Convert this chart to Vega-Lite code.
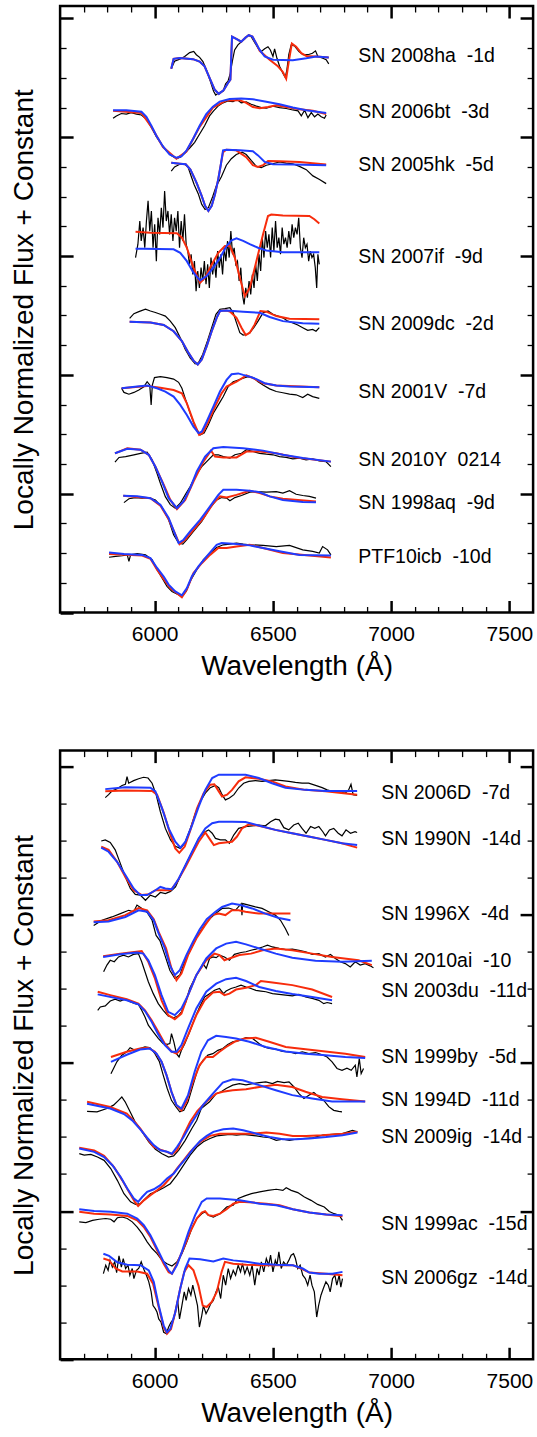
{
"$schema":"https://vega.github.io/schema/vega-lite/v6.json",
"background":"white",
"padding":{"left":8.1,"top":3,"right":0,"bottom":0},
"spacing":65.6,
"config":{
"view":{"stroke":"black","strokeWidth":2.5},
"font":"Liberation Sans",
"axis":{"domain":false,"grid":false,"labelFont":"Liberation Sans","titleFont":"Liberation Sans","labelFontSize":21,"titleFontSize":28,"titleFontWeight":"normal","labelColor":"black","titleColor":"black","tickColor":"black"}
},
"datasets":{
"k1":[
{"sn":1,"w":6070,"f":18.31},{"sn":1,"w":6084,"f":18.56},{"sn":1,"w":6106,"f":18.63},{"sn":1,"w":6127,"f":18.72},{"sn":1,"w":6148,"f":18.85},{"sn":1,"w":6165,"f":18.89},{"sn":1,"w":6176,"f":18.78},{"sn":1,"w":6190,"f":18.69},{"sn":1,"w":6204,"f":18.55},{"sn":1,"w":6218,"f":18.28},{"sn":1,"w":6235,"f":17.89},{"sn":1,"w":6249,"f":17.55},{"sn":1,"w":6258,"f":17.42},{"sn":1,"w":6271,"f":17.5},{"sn":1,"w":6289,"f":17.55},{"sn":1,"w":6300,"f":17.8},{"sn":1,"w":6310,"f":17.89},{"sn":1,"w":6320,"f":18.16},{"sn":1,"w":6328,"f":18.55},{"sn":1,"w":6338,"f":18.94},{"sn":1,"w":6352,"f":19.11},{"sn":1,"w":6370,"f":19.24},{"sn":1,"w":6384,"f":19.33},{"sn":1,"w":6396,"f":19.44},{"sn":1,"w":6408,"f":19.39},{"sn":1,"w":6422,"f":19.2},{"sn":1,"w":6437,"f":19.0},{"sn":1,"w":6451,"f":18.89},{"sn":1,"w":6465,"f":18.98},{"sn":1,"w":6479,"f":19.05},{"sn":1,"w":6489,"f":18.94},{"sn":1,"w":6500,"f":18.72},{"sn":1,"w":6507,"f":18.98},{"sn":1,"w":6517,"f":18.66},{"sn":1,"w":6528,"f":18.39},{"sn":1,"w":6542,"f":18.16},{"sn":1,"w":6552,"f":18.02},{"sn":1,"w":6559,"f":18.27},{"sn":1,"w":6567,"f":18.78},{"sn":1,"w":6577,"f":19.11},{"sn":1,"w":6591,"f":19.08},{"sn":1,"w":6610,"f":18.89},{"sn":1,"w":6627,"f":18.78},{"sn":1,"w":6648,"f":18.78},{"sn":1,"w":6667,"f":18.83},{"sn":1,"w":6680,"f":18.91},{"sn":1,"w":6690,"f":18.72},{"sn":1,"w":6711,"f":18.66},{"sn":1,"w":6725,"f":18.61},{"sn":1,"w":6736,"f":18.47},
{"sn":2,"w":5824,"f":16.64},{"sn":2,"w":5838,"f":16.72},{"sn":2,"w":5859,"f":16.8},{"sn":2,"w":5880,"f":16.78},{"sn":2,"w":5901,"f":16.83},{"sn":2,"w":5923,"f":16.78},{"sn":2,"w":5944,"f":16.75},{"sn":2,"w":5965,"f":16.61},{"sn":2,"w":5986,"f":16.33},{"sn":2,"w":6007,"f":16.02},{"sn":2,"w":6028,"f":15.78},{"sn":2,"w":6049,"f":15.55},{"sn":2,"w":6070,"f":15.39},{"sn":2,"w":6092,"f":15.28},{"sn":2,"w":6108,"f":15.33},{"sn":2,"w":6127,"f":15.46},{"sn":2,"w":6148,"f":15.64},{"sn":2,"w":6169,"f":15.83},{"sn":2,"w":6190,"f":16.11},{"sn":2,"w":6211,"f":16.39},{"sn":2,"w":6232,"f":16.72},{"sn":2,"w":6249,"f":16.89},{"sn":2,"w":6268,"f":17.05},{"sn":2,"w":6289,"f":17.16},{"sn":2,"w":6310,"f":17.22},{"sn":2,"w":6331,"f":17.2},{"sn":2,"w":6348,"f":17.27},{"sn":2,"w":6366,"f":17.16},{"sn":2,"w":6387,"f":17.19},{"sn":2,"w":6408,"f":17.11},{"sn":2,"w":6430,"f":17.05},{"sn":2,"w":6451,"f":17.0},{"sn":2,"w":6472,"f":16.98},{"sn":2,"w":6500,"f":17.05},{"sn":2,"w":6528,"f":17.0},{"sn":2,"w":6556,"f":16.97},{"sn":2,"w":6584,"f":16.92},{"sn":2,"w":6606,"f":16.89},{"sn":2,"w":6620,"f":16.72},{"sn":2,"w":6634,"f":16.91},{"sn":2,"w":6648,"f":16.66},{"sn":2,"w":6662,"f":16.83},{"sn":2,"w":6676,"f":16.69},{"sn":2,"w":6690,"f":16.78},{"sn":2,"w":6704,"f":16.69},{"sn":2,"w":6718,"f":16.64},{"sn":2,"w":6725,"f":16.75},
{"sn":3,"w":6070,"f":14.86},{"sn":3,"w":6084,"f":15.0},{"sn":3,"w":6106,"f":15.09},{"sn":3,"w":6127,"f":15.09},{"sn":3,"w":6141,"f":15.0},{"sn":3,"w":6155,"f":14.67},{"sn":3,"w":6167,"f":14.4},{"sn":3,"w":6185,"f":14.08},{"sn":3,"w":6199,"f":13.74},{"sn":3,"w":6213,"f":13.57},{"sn":3,"w":6227,"f":13.63},{"sn":3,"w":6245,"f":14.0},{"sn":3,"w":6260,"f":14.35},{"sn":3,"w":6282,"f":14.67},{"sn":3,"w":6303,"f":15.06},{"sn":3,"w":6324,"f":15.28},{"sn":3,"w":6345,"f":15.42},{"sn":3,"w":6370,"f":15.5},{"sn":3,"w":6387,"f":15.42},{"sn":3,"w":6408,"f":15.22},{"sn":3,"w":6430,"f":15.02},{"sn":3,"w":6451,"f":14.98},{"sn":3,"w":6472,"f":15.06},{"sn":3,"w":6500,"f":15.11},{"sn":3,"w":6528,"f":15.17},{"sn":3,"w":6556,"f":15.13},{"sn":3,"w":6584,"f":15.11},{"sn":3,"w":6612,"f":15.02},{"sn":3,"w":6641,"f":14.91},{"sn":3,"w":6669,"f":14.7},{"sn":3,"w":6697,"f":14.58},{"sn":3,"w":6725,"f":14.44},
{"sn":4,"w":5919,"f":11.95},{"sn":4,"w":5929,"f":12.4},{"sn":4,"w":5937,"f":13.18},{"sn":4,"w":5943,"f":12.51},{"sn":4,"w":5951,"f":12.96},{"sn":4,"w":5958,"f":12.28},{"sn":4,"w":5965,"f":13.18},{"sn":4,"w":5972,"f":13.86},{"sn":4,"w":5979,"f":12.84},{"sn":4,"w":5986,"f":13.52},{"sn":4,"w":5993,"f":12.28},{"sn":4,"w":6000,"f":13.07},{"sn":4,"w":6007,"f":11.83},{"sn":4,"w":6014,"f":13.29},{"sn":4,"w":6021,"f":12.73},{"sn":4,"w":6028,"f":13.63},{"sn":4,"w":6035,"f":12.96},{"sn":4,"w":6042,"f":14.19},{"sn":4,"w":6049,"f":13.18},{"sn":4,"w":6056,"f":13.52},{"sn":4,"w":6063,"f":12.73},{"sn":4,"w":6070,"f":13.41},{"sn":4,"w":6077,"f":12.51},{"sn":4,"w":6084,"f":13.29},{"sn":4,"w":6091,"f":12.84},{"sn":4,"w":6098,"f":13.52},{"sn":4,"w":6105,"f":12.28},{"sn":4,"w":6112,"f":13.18},{"sn":4,"w":6119,"f":12.51},{"sn":4,"w":6126,"f":13.41},{"sn":4,"w":6133,"f":12.4},{"sn":4,"w":6140,"f":12.17},{"sn":4,"w":6147,"f":11.72},{"sn":4,"w":6154,"f":12.06},{"sn":4,"w":6161,"f":11.38},{"sn":4,"w":6168,"f":11.83},{"sn":4,"w":6175,"f":10.82},{"sn":4,"w":6182,"f":11.5},{"sn":4,"w":6189,"f":10.93},{"sn":4,"w":6196,"f":11.61},{"sn":4,"w":6203,"f":11.16},{"sn":4,"w":6210,"f":11.83},{"sn":4,"w":6217,"f":11.05},{"sn":4,"w":6224,"f":11.72},{"sn":4,"w":6231,"f":10.93},{"sn":4,"w":6238,"f":11.95},{"sn":4,"w":6245,"f":11.38},{"sn":4,"w":6252,"f":11.83},{"sn":4,"w":6259,"f":11.27},{"sn":4,"w":6266,"f":12.17},{"sn":4,"w":6273,"f":11.61},{"sn":4,"w":6280,"f":12.06},{"sn":4,"w":6287,"f":11.38},{"sn":4,"w":6294,"f":12.28},{"sn":4,"w":6301,"f":11.83},{"sn":4,"w":6308,"f":12.51},{"sn":4,"w":6315,"f":11.95},{"sn":4,"w":6322,"f":12.84},{"sn":4,"w":6329,"f":12.06},{"sn":4,"w":6336,"f":12.28},{"sn":4,"w":6343,"f":11.72},{"sn":4,"w":6350,"f":11.83},{"sn":4,"w":6357,"f":11.16},{"sn":4,"w":6364,"f":11.61},{"sn":4,"w":6371,"f":10.71},{"sn":4,"w":6378,"f":10.37},{"sn":4,"w":6385,"f":10.93},{"sn":4,"w":6392,"f":10.6},{"sn":4,"w":6399,"f":11.16},{"sn":4,"w":6406,"f":10.71},{"sn":4,"w":6413,"f":11.38},{"sn":4,"w":6420,"f":10.93},{"sn":4,"w":6427,"f":11.72},{"sn":4,"w":6434,"f":11.16},{"sn":4,"w":6441,"f":12.06},{"sn":4,"w":6448,"f":11.5},{"sn":4,"w":6455,"f":12.62},{"sn":4,"w":6462,"f":11.95},{"sn":4,"w":6469,"f":12.84},{"sn":4,"w":6476,"f":12.28},{"sn":4,"w":6483,"f":12.73},{"sn":4,"w":6490,"f":11.95},{"sn":4,"w":6497,"f":12.96},{"sn":4,"w":6504,"f":12.17},{"sn":4,"w":6511,"f":13.18},{"sn":4,"w":6518,"f":12.28},{"sn":4,"w":6525,"f":12.62},{"sn":4,"w":6532,"f":12.06},{"sn":4,"w":6539,"f":12.96},{"sn":4,"w":6546,"f":12.4},{"sn":4,"w":6553,"f":12.62},{"sn":4,"w":6560,"f":12.28},{"sn":4,"w":6567,"f":12.84},{"sn":4,"w":6574,"f":12.4},{"sn":4,"w":6581,"f":13.07},{"sn":4,"w":6588,"f":12.62},{"sn":4,"w":6595,"f":12.96},{"sn":4,"w":6602,"f":12.73},{"sn":4,"w":6609,"f":13.29},{"sn":4,"w":6616,"f":12.28},{"sn":4,"w":6623,"f":11.95},{"sn":4,"w":6630,"f":12.62},{"sn":4,"w":6637,"f":12.28},{"sn":4,"w":6644,"f":12.4},{"sn":4,"w":6651,"f":11.83},{"sn":4,"w":6658,"f":12.17},{"sn":4,"w":6665,"f":11.95},{"sn":4,"w":6672,"f":12.06},{"sn":4,"w":6679,"f":11.61},{"sn":4,"w":6685,"f":10.93},{"sn":4,"w":6690,"f":12.06},{"sn":4,"w":6696,"f":11.72},
{"sn":5,"w":5894,"f":9.9},{"sn":5,"w":5912,"f":10.06},{"sn":5,"w":5933,"f":10.13},{"sn":5,"w":5961,"f":10.21},{"sn":5,"w":5982,"f":10.15},{"sn":5,"w":6003,"f":10.1},{"sn":5,"w":6024,"f":10.04},{"sn":5,"w":6045,"f":9.98},{"sn":5,"w":6066,"f":9.81},{"sn":5,"w":6087,"f":9.59},{"sn":5,"w":6108,"f":9.25},{"sn":5,"w":6129,"f":8.86},{"sn":5,"w":6150,"f":8.57},{"sn":5,"w":6171,"f":8.37},{"sn":5,"w":6185,"f":8.41},{"sn":5,"w":6203,"f":8.69},{"sn":5,"w":6223,"f":9.14},{"sn":5,"w":6241,"f":9.59},{"sn":5,"w":6259,"f":10.04},{"sn":5,"w":6276,"f":10.21},{"sn":5,"w":6297,"f":10.23},{"sn":5,"w":6318,"f":10.26},{"sn":5,"w":6332,"f":10.09},{"sn":5,"w":6346,"f":9.75},{"sn":5,"w":6360,"f":9.42},{"sn":5,"w":6374,"f":9.34},{"sn":5,"w":6388,"f":9.36},{"sn":5,"w":6402,"f":9.42},{"sn":5,"w":6419,"f":9.59},{"sn":5,"w":6437,"f":9.81},{"sn":5,"w":6458,"f":10.09},{"sn":5,"w":6479,"f":10.15},{"sn":5,"w":6500,"f":10.04},{"sn":5,"w":6521,"f":9.98},{"sn":5,"w":6542,"f":9.92},{"sn":5,"w":6563,"f":9.81},{"sn":5,"w":6584,"f":9.75},{"sn":5,"w":6605,"f":9.68},{"sn":5,"w":6626,"f":9.59},{"sn":5,"w":6647,"f":9.5},{"sn":5,"w":6668,"f":9.53},{"sn":5,"w":6682,"f":9.47},{"sn":5,"w":6696,"f":9.59},
{"sn":6,"w":5860,"f":7.55},{"sn":6,"w":5870,"f":7.41},{"sn":6,"w":5891,"f":7.35},{"sn":6,"w":5912,"f":7.41},{"sn":6,"w":5933,"f":7.49},{"sn":6,"w":5954,"f":7.6},{"sn":6,"w":5968,"f":7.77},{"sn":6,"w":5979,"f":7.66},{"sn":6,"w":5985,"f":6.99},{"sn":6,"w":5990,"f":7.66},{"sn":6,"w":5999,"f":7.91},{"sn":6,"w":6024,"f":7.94},{"sn":6,"w":6052,"f":7.91},{"sn":6,"w":6080,"f":7.86},{"sn":6,"w":6101,"f":7.75},{"sn":6,"w":6115,"f":7.55},{"sn":6,"w":6129,"f":7.21},{"sn":6,"w":6150,"f":6.71},{"sn":6,"w":6171,"f":6.26},{"sn":6,"w":6192,"f":5.98},{"sn":6,"w":6209,"f":6.04},{"sn":6,"w":6227,"f":6.32},{"sn":6,"w":6248,"f":6.71},{"sn":6,"w":6269,"f":6.99},{"sn":6,"w":6290,"f":7.27},{"sn":6,"w":6311,"f":7.61},{"sn":6,"w":6332,"f":7.77},{"sn":6,"w":6353,"f":7.83},{"sn":6,"w":6374,"f":7.89},{"sn":6,"w":6395,"f":7.94},{"sn":6,"w":6416,"f":7.91},{"sn":6,"w":6437,"f":7.77},{"sn":6,"w":6458,"f":7.66},{"sn":6,"w":6486,"f":7.53},{"sn":6,"w":6514,"f":7.44},{"sn":6,"w":6542,"f":7.4},{"sn":6,"w":6570,"f":7.35},{"sn":6,"w":6598,"f":7.33},{"sn":6,"w":6626,"f":7.24},{"sn":6,"w":6647,"f":7.35},{"sn":6,"w":6668,"f":7.27},{"sn":6,"w":6696,"f":7.21},
{"sn":7,"w":5832,"f":5.06},{"sn":7,"w":5849,"f":5.22},{"sn":7,"w":5877,"f":5.25},{"sn":7,"w":5912,"f":5.31},{"sn":7,"w":5940,"f":5.36},{"sn":7,"w":5968,"f":5.4},{"sn":7,"w":5989,"f":5.14},{"sn":7,"w":6007,"f":4.75},{"sn":7,"w":6024,"f":4.35},{"sn":7,"w":6045,"f":3.9},{"sn":7,"w":6066,"f":3.63},{"sn":7,"w":6087,"f":3.51},{"sn":7,"w":6108,"f":3.68},{"sn":7,"w":6129,"f":3.96},{"sn":7,"w":6150,"f":4.24},{"sn":7,"w":6171,"f":4.58},{"sn":7,"w":6199,"f":4.91},{"sn":7,"w":6227,"f":5.14},{"sn":7,"w":6248,"f":5.31},{"sn":7,"w":6269,"f":5.31},{"sn":7,"w":6290,"f":5.25},{"sn":7,"w":6318,"f":5.2},{"sn":7,"w":6339,"f":5.31},{"sn":7,"w":6367,"f":5.36},{"sn":7,"w":6388,"f":5.48},{"sn":7,"w":6416,"f":5.42},{"sn":7,"w":6444,"f":5.36},{"sn":7,"w":6472,"f":5.33},{"sn":7,"w":6500,"f":5.31},{"sn":7,"w":6528,"f":5.25},{"sn":7,"w":6556,"f":5.22},{"sn":7,"w":6584,"f":5.17},{"sn":7,"w":6612,"f":5.2},{"sn":7,"w":6640,"f":5.14},{"sn":7,"w":6668,"f":5.17},{"sn":7,"w":6696,"f":5.1},{"sn":7,"w":6724,"f":5.08},{"sn":7,"w":6745,"f":4.91},
{"sn":8,"w":5870,"f":3.7},{"sn":8,"w":5891,"f":3.83},{"sn":8,"w":5919,"f":3.87},{"sn":8,"w":5947,"f":3.85},{"sn":8,"w":5975,"f":3.87},{"sn":8,"w":6003,"f":3.79},{"sn":8,"w":6031,"f":3.54},{"sn":8,"w":6059,"f":3.12},{"sn":8,"w":6080,"f":2.62},{"sn":8,"w":6101,"f":2.34},{"sn":8,"w":6119,"f":2.3},{"sn":8,"w":6136,"f":2.45},{"sn":8,"w":6164,"f":2.73},{"sn":8,"w":6199,"f":3.07},{"sn":8,"w":6234,"f":3.52},{"sn":8,"w":6262,"f":3.79},{"sn":8,"w":6283,"f":3.87},{"sn":8,"w":6304,"f":3.85},{"sn":8,"w":6318,"f":3.76},{"sn":8,"w":6339,"f":3.87},{"sn":8,"w":6367,"f":3.94},{"sn":8,"w":6402,"f":4.05},{"sn":8,"w":6430,"f":4.07},{"sn":8,"w":6472,"f":4.05},{"sn":8,"w":6514,"f":4.07},{"sn":8,"w":6542,"f":4.02},{"sn":8,"w":6570,"f":4.1},{"sn":8,"w":6598,"f":3.98},{"sn":8,"w":6626,"f":3.94},{"sn":8,"w":6654,"f":3.91},{"sn":8,"w":6682,"f":3.85},
{"sn":9,"w":5807,"f":1.86},{"sn":9,"w":5835,"f":1.89},{"sn":9,"w":5863,"f":1.91},{"sn":9,"w":5884,"f":1.94},{"sn":9,"w":5891,"f":1.72},{"sn":9,"w":5898,"f":1.94},{"sn":9,"w":5926,"f":1.98},{"sn":9,"w":5961,"f":1.94},{"sn":9,"w":5989,"f":1.78},{"sn":9,"w":6010,"f":1.44},{"sn":9,"w":6031,"f":1.16},{"sn":9,"w":6052,"f":0.88},{"sn":9,"w":6073,"f":0.71},{"sn":9,"w":6094,"f":0.62},{"sn":9,"w":6115,"f":0.54},{"sn":9,"w":6133,"f":0.71},{"sn":9,"w":6150,"f":1.05},{"sn":9,"w":6178,"f":1.44},{"sn":9,"w":6206,"f":1.78},{"sn":9,"w":6234,"f":2.0},{"sn":9,"w":6262,"f":2.19},{"sn":9,"w":6290,"f":2.28},{"sn":9,"w":6318,"f":2.3},{"sn":9,"w":6346,"f":2.34},{"sn":9,"w":6374,"f":2.3},{"sn":9,"w":6402,"f":2.28},{"sn":9,"w":6458,"f":2.26},{"sn":9,"w":6514,"f":2.22},{"sn":9,"w":6570,"f":2.26},{"sn":9,"w":6626,"f":2.11},{"sn":9,"w":6668,"f":2.06},{"sn":9,"w":6696,"f":2.0},{"sn":9,"w":6710,"f":2.22},{"sn":9,"w":6731,"f":2.11},{"sn":9,"w":6745,"f":1.94}
],
"r1":[
{"sn":1,"w":6070,"f":18.31},{"sn":1,"w":6080,"f":18.64},{"sn":1,"w":6106,"f":18.67},{"sn":1,"w":6162,"f":18.63},{"sn":1,"w":6190,"f":18.55},{"sn":1,"w":6211,"f":18.39},{"sn":1,"w":6232,"f":18.0},{"sn":1,"w":6253,"f":17.61},{"sn":1,"w":6271,"f":17.46},{"sn":1,"w":6291,"f":17.58},{"sn":1,"w":6310,"f":17.83},{"sn":1,"w":6320,"f":17.94},{"sn":1,"w":6327,"f":19.39},{"sn":1,"w":6345,"f":19.31},{"sn":1,"w":6366,"f":19.22},{"sn":1,"w":6384,"f":19.36},{"sn":1,"w":6398,"f":19.44},{"sn":1,"w":6413,"f":19.39},{"sn":1,"w":6429,"f":19.16},{"sn":1,"w":6444,"f":18.91},{"sn":1,"w":6486,"f":18.61},{"sn":1,"w":6521,"f":18.39},{"sn":1,"w":6542,"f":18.2},{"sn":1,"w":6556,"f":17.97},{"sn":1,"w":6567,"f":18.55},{"sn":1,"w":6580,"f":19.16},{"sn":1,"w":6598,"f":19.05},{"sn":1,"w":6620,"f":18.83},{"sn":1,"w":6641,"f":18.74},{"sn":1,"w":6683,"f":18.72},{"sn":1,"w":6736,"f":18.69},
{"sn":2,"w":5824,"f":16.89},{"sn":2,"w":5944,"f":16.82},{"sn":2,"w":5986,"f":16.35},{"sn":2,"w":6035,"f":15.67},{"sn":2,"w":6092,"f":15.28},{"sn":2,"w":6134,"f":15.52},{"sn":2,"w":6190,"f":16.35},{"sn":2,"w":6246,"f":17.0},{"sn":2,"w":6303,"f":17.24},{"sn":2,"w":6359,"f":17.25},{"sn":2,"w":6387,"f":17.16},{"sn":2,"w":6415,"f":17.02},{"sn":2,"w":6444,"f":16.98},{"sn":2,"w":6479,"f":17.02},{"sn":2,"w":6514,"f":17.08},{"sn":2,"w":6556,"f":17.02},{"sn":2,"w":6612,"f":16.94},{"sn":2,"w":6669,"f":16.89},{"sn":2,"w":6725,"f":16.78},
{"sn":3,"w":6070,"f":15.14},{"sn":3,"w":6106,"f":15.11},{"sn":3,"w":6131,"f":15.09},{"sn":3,"w":6151,"f":14.91},{"sn":3,"w":6169,"f":14.61},{"sn":3,"w":6178,"f":14.45},{"sn":3,"w":6199,"f":14.02},{"sn":3,"w":6213,"f":13.69},{"sn":3,"w":6227,"f":13.52},{"sn":3,"w":6241,"f":13.69},{"sn":3,"w":6255,"f":14.08},{"sn":3,"w":6269,"f":14.6},{"sn":3,"w":6280,"f":15.1},{"sn":3,"w":6289,"f":15.5},{"sn":3,"w":6303,"f":15.58},{"sn":3,"w":6345,"f":15.56},{"sn":3,"w":6387,"f":15.33},{"sn":3,"w":6415,"f":15.06},{"sn":3,"w":6437,"f":15.0},{"sn":3,"w":6458,"f":15.06},{"sn":3,"w":6479,"f":15.2},{"sn":3,"w":6528,"f":15.19},{"sn":3,"w":6612,"f":15.17},{"sn":3,"w":6725,"f":15.08},
{"sn":4,"w":5919,"f":12.82},{"sn":4,"w":5982,"f":12.79},{"sn":4,"w":6094,"f":12.77},{"sn":4,"w":6115,"f":12.62},{"sn":4,"w":6136,"f":12.28},{"sn":4,"w":6164,"f":11.61},{"sn":4,"w":6192,"f":11.1},{"sn":4,"w":6213,"f":11.27},{"sn":4,"w":6241,"f":11.72},{"sn":4,"w":6269,"f":12.11},{"sn":4,"w":6297,"f":12.34},{"sn":4,"w":6318,"f":12.34},{"sn":4,"w":6339,"f":11.94},{"sn":4,"w":6360,"f":11.27},{"sn":4,"w":6381,"f":10.65},{"sn":4,"w":6402,"f":10.93},{"sn":4,"w":6430,"f":11.83},{"sn":4,"w":6458,"f":12.73},{"sn":4,"w":6479,"f":13.35},{"sn":4,"w":6493,"f":13.4},{"sn":4,"w":6542,"f":13.37},{"sn":4,"w":6654,"f":13.35},{"sn":4,"w":6675,"f":13.24},{"sn":4,"w":6696,"f":13.1},
{"sn":5,"w":5894,"f":9.79},{"sn":5,"w":5982,"f":9.76},{"sn":5,"w":6038,"f":9.68},{"sn":5,"w":6080,"f":9.47},{"sn":5,"w":6115,"f":9.14},{"sn":5,"w":6143,"f":8.74},{"sn":5,"w":6164,"f":8.48},{"sn":5,"w":6182,"f":8.35},{"sn":5,"w":6199,"f":8.52},{"sn":5,"w":6220,"f":8.97},{"sn":5,"w":6241,"f":9.47},{"sn":5,"w":6262,"f":9.92},{"sn":5,"w":6276,"f":10.15},{"sn":5,"w":6304,"f":10.17},{"sn":5,"w":6318,"f":10.13},{"sn":5,"w":6346,"f":9.92},{"sn":5,"w":6367,"f":9.59},{"sn":5,"w":6385,"f":9.34},{"sn":5,"w":6402,"f":9.42},{"sn":5,"w":6423,"f":9.7},{"sn":5,"w":6447,"f":10.15},{"sn":5,"w":6472,"f":10.13},{"sn":5,"w":6514,"f":9.98},{"sn":5,"w":6570,"f":9.89},{"sn":5,"w":6696,"f":9.87},
{"sn":6,"w":5860,"f":7.55},{"sn":6,"w":5968,"f":7.63},{"sn":6,"w":6024,"f":7.57},{"sn":6,"w":6080,"f":7.49},{"sn":6,"w":6115,"f":7.38},{"sn":6,"w":6136,"f":7.04},{"sn":6,"w":6164,"f":6.43},{"sn":6,"w":6188,"f":5.98},{"sn":6,"w":6203,"f":6.04},{"sn":6,"w":6227,"f":6.43},{"sn":6,"w":6255,"f":6.93},{"sn":6,"w":6283,"f":7.38},{"sn":6,"w":6304,"f":7.61},{"sn":6,"w":6346,"f":7.77},{"sn":6,"w":6388,"f":7.98},{"sn":6,"w":6416,"f":7.89},{"sn":6,"w":6458,"f":7.72},{"sn":6,"w":6514,"f":7.64},{"sn":6,"w":6696,"f":7.58},
{"sn":7,"w":5832,"f":5.36},{"sn":7,"w":5884,"f":5.53},{"sn":7,"w":5940,"f":5.48},{"sn":7,"w":5975,"f":5.31},{"sn":7,"w":6003,"f":4.91},{"sn":7,"w":6038,"f":4.3},{"sn":7,"w":6066,"f":3.79},{"sn":7,"w":6094,"f":3.48},{"sn":7,"w":6129,"f":3.79},{"sn":7,"w":6164,"f":4.41},{"sn":7,"w":6206,"f":5.08},{"sn":7,"w":6238,"f":5.45},{"sn":7,"w":6255,"f":5.25},{"sn":7,"w":6290,"f":5.22},{"sn":7,"w":6346,"f":5.22},{"sn":7,"w":6388,"f":5.42},{"sn":7,"w":6444,"f":5.42},{"sn":7,"w":6514,"f":5.36},{"sn":7,"w":6598,"f":5.22},{"sn":7,"w":6745,"f":5.08},
{"sn":8,"w":5867,"f":3.93},{"sn":8,"w":5982,"f":3.85},{"sn":8,"w":6024,"f":3.6},{"sn":8,"w":6059,"f":3.14},{"sn":8,"w":6091,"f":2.56},{"sn":8,"w":6105,"f":2.3},{"sn":8,"w":6129,"f":2.45},{"sn":8,"w":6164,"f":2.78},{"sn":8,"w":6206,"f":3.18},{"sn":8,"w":6248,"f":3.68},{"sn":8,"w":6276,"f":3.91},{"sn":8,"w":6304,"f":3.87},{"sn":8,"w":6346,"f":3.96},{"sn":8,"w":6402,"f":4.1},{"sn":8,"w":6444,"f":4.02},{"sn":8,"w":6486,"f":3.91},{"sn":8,"w":6542,"f":3.83},{"sn":8,"w":6682,"f":3.74},
{"sn":9,"w":5807,"f":1.97},{"sn":9,"w":5947,"f":1.92},{"sn":9,"w":5982,"f":1.81},{"sn":9,"w":6010,"f":1.44},{"sn":9,"w":6045,"f":1.05},{"sn":9,"w":6066,"f":0.82},{"sn":9,"w":6087,"f":0.69},{"sn":9,"w":6115,"f":0.51},{"sn":9,"w":6136,"f":0.77},{"sn":9,"w":6164,"f":1.33},{"sn":9,"w":6199,"f":1.66},{"sn":9,"w":6234,"f":1.94},{"sn":9,"w":6269,"f":2.17},{"sn":9,"w":6304,"f":2.17},{"sn":9,"w":6346,"f":2.22},{"sn":9,"w":6402,"f":2.28},{"sn":9,"w":6458,"f":2.17},{"sn":9,"w":6542,"f":2.0},{"sn":9,"w":6745,"f":1.85}
],
"b1":[
{"sn":1,"w":6070,"f":18.31},{"sn":1,"w":6080,"f":18.64},{"sn":1,"w":6106,"f":18.67},{"sn":1,"w":6162,"f":18.63},{"sn":1,"w":6190,"f":18.55},{"sn":1,"w":6211,"f":18.39},{"sn":1,"w":6232,"f":18.0},{"sn":1,"w":6253,"f":17.61},{"sn":1,"w":6271,"f":17.46},{"sn":1,"w":6291,"f":17.58},{"sn":1,"w":6310,"f":17.83},{"sn":1,"w":6320,"f":17.94},{"sn":1,"w":6327,"f":19.39},{"sn":1,"w":6345,"f":19.31},{"sn":1,"w":6366,"f":19.22},{"sn":1,"w":6384,"f":19.36},{"sn":1,"w":6398,"f":19.44},{"sn":1,"w":6413,"f":19.39},{"sn":1,"w":6429,"f":19.16},{"sn":1,"w":6444,"f":18.94},{"sn":1,"w":6465,"f":18.72},{"sn":1,"w":6500,"f":18.61},{"sn":1,"w":6584,"f":18.59},{"sn":1,"w":6641,"f":18.66},{"sn":1,"w":6683,"f":18.72},{"sn":1,"w":6736,"f":18.69},
{"sn":2,"w":5824,"f":16.91},{"sn":2,"w":5880,"f":16.91},{"sn":2,"w":5944,"f":16.86},{"sn":2,"w":5965,"f":16.69},{"sn":2,"w":5986,"f":16.39},{"sn":2,"w":6007,"f":16.05},{"sn":2,"w":6035,"f":15.69},{"sn":2,"w":6063,"f":15.42},{"sn":2,"w":6092,"f":15.31},{"sn":2,"w":6113,"f":15.36},{"sn":2,"w":6134,"f":15.55},{"sn":2,"w":6162,"f":15.94},{"sn":2,"w":6190,"f":16.39},{"sn":2,"w":6218,"f":16.78},{"sn":2,"w":6246,"f":17.03},{"sn":2,"w":6275,"f":17.2},{"sn":2,"w":6317,"f":17.29},{"sn":2,"w":6366,"f":17.31},{"sn":2,"w":6415,"f":17.28},{"sn":2,"w":6472,"f":17.2},{"sn":2,"w":6528,"f":17.11},{"sn":2,"w":6584,"f":17.0},{"sn":2,"w":6641,"f":16.91},{"sn":2,"w":6725,"f":16.82},
{"sn":3,"w":6070,"f":15.14},{"sn":3,"w":6106,"f":15.11},{"sn":3,"w":6131,"f":15.09},{"sn":3,"w":6151,"f":14.91},{"sn":3,"w":6169,"f":14.61},{"sn":3,"w":6178,"f":14.45},{"sn":3,"w":6199,"f":14.02},{"sn":3,"w":6213,"f":13.69},{"sn":3,"w":6227,"f":13.52},{"sn":3,"w":6241,"f":13.69},{"sn":3,"w":6255,"f":14.08},{"sn":3,"w":6269,"f":14.6},{"sn":3,"w":6280,"f":15.1},{"sn":3,"w":6289,"f":15.56},{"sn":3,"w":6303,"f":15.58},{"sn":3,"w":6359,"f":15.56},{"sn":3,"w":6415,"f":15.53},{"sn":3,"w":6437,"f":15.39},{"sn":3,"w":6465,"f":15.17},{"sn":3,"w":6500,"f":15.09},{"sn":3,"w":6584,"f":15.08},{"sn":3,"w":6725,"f":15.06},
{"sn":4,"w":5919,"f":12.25},{"sn":4,"w":5954,"f":12.25},{"sn":4,"w":6080,"f":12.23},{"sn":4,"w":6108,"f":12.11},{"sn":4,"w":6136,"f":11.83},{"sn":4,"w":6164,"f":11.44},{"sn":4,"w":6192,"f":11.18},{"sn":4,"w":6220,"f":11.33},{"sn":4,"w":6248,"f":11.61},{"sn":4,"w":6276,"f":11.94},{"sn":4,"w":6304,"f":12.34},{"sn":4,"w":6325,"f":12.53},{"sn":4,"w":6346,"f":12.6},{"sn":4,"w":6374,"f":12.51},{"sn":4,"w":6402,"f":12.4},{"sn":4,"w":6437,"f":12.28},{"sn":4,"w":6472,"f":12.19},{"sn":4,"w":6542,"f":12.13},{"sn":4,"w":6626,"f":12.13},{"sn":4,"w":6696,"f":12.13},
{"sn":5,"w":5894,"f":9.79},{"sn":5,"w":5982,"f":9.76},{"sn":5,"w":6038,"f":9.68},{"sn":5,"w":6080,"f":9.47},{"sn":5,"w":6115,"f":9.14},{"sn":5,"w":6143,"f":8.74},{"sn":5,"w":6164,"f":8.48},{"sn":5,"w":6182,"f":8.35},{"sn":5,"w":6199,"f":8.52},{"sn":5,"w":6220,"f":8.97},{"sn":5,"w":6241,"f":9.47},{"sn":5,"w":6262,"f":9.92},{"sn":5,"w":6276,"f":10.15},{"sn":5,"w":6304,"f":10.17},{"sn":5,"w":6374,"f":10.13},{"sn":5,"w":6444,"f":10.09},{"sn":5,"w":6486,"f":9.95},{"sn":5,"w":6542,"f":9.81},{"sn":5,"w":6626,"f":9.74},{"sn":5,"w":6696,"f":9.72},
{"sn":6,"w":5860,"f":7.55},{"sn":6,"w":5926,"f":7.61},{"sn":6,"w":5968,"f":7.64},{"sn":6,"w":6010,"f":7.55},{"sn":6,"w":6045,"f":7.44},{"sn":6,"w":6080,"f":7.27},{"sn":6,"w":6108,"f":6.99},{"sn":6,"w":6136,"f":6.65},{"sn":6,"w":6164,"f":6.26},{"sn":6,"w":6185,"f":6.04},{"sn":6,"w":6199,"f":6.09},{"sn":6,"w":6220,"f":6.43},{"sn":6,"w":6248,"f":6.93},{"sn":6,"w":6276,"f":7.44},{"sn":6,"w":6304,"f":7.83},{"sn":6,"w":6325,"f":8.02},{"sn":6,"w":6353,"f":8.05},{"sn":6,"w":6374,"f":8.0},{"sn":6,"w":6402,"f":7.94},{"sn":6,"w":6430,"f":7.86},{"sn":6,"w":6465,"f":7.72},{"sn":6,"w":6514,"f":7.64},{"sn":6,"w":6570,"f":7.61},{"sn":6,"w":6696,"f":7.58},
{"sn":7,"w":5832,"f":5.36},{"sn":7,"w":5884,"f":5.51},{"sn":7,"w":5940,"f":5.48},{"sn":7,"w":5975,"f":5.31},{"sn":7,"w":6003,"f":4.91},{"sn":7,"w":6031,"f":4.41},{"sn":7,"w":6059,"f":3.85},{"sn":7,"w":6094,"f":3.51},{"sn":7,"w":6122,"f":3.74},{"sn":7,"w":6150,"f":4.19},{"sn":7,"w":6178,"f":4.75},{"sn":7,"w":6213,"f":5.25},{"sn":7,"w":6248,"f":5.53},{"sn":7,"w":6290,"f":5.57},{"sn":7,"w":6374,"f":5.53},{"sn":7,"w":6458,"f":5.45},{"sn":7,"w":6542,"f":5.31},{"sn":7,"w":6626,"f":5.2},{"sn":7,"w":6745,"f":5.08},
{"sn":8,"w":5867,"f":3.93},{"sn":8,"w":5926,"f":3.91},{"sn":8,"w":5982,"f":3.85},{"sn":8,"w":6024,"f":3.63},{"sn":8,"w":6059,"f":3.18},{"sn":8,"w":6087,"f":2.62},{"sn":8,"w":6101,"f":2.34},{"sn":8,"w":6122,"f":2.45},{"sn":8,"w":6150,"f":2.73},{"sn":8,"w":6192,"f":3.12},{"sn":8,"w":6234,"f":3.57},{"sn":8,"w":6269,"f":3.96},{"sn":8,"w":6290,"f":4.13},{"sn":8,"w":6346,"f":4.13},{"sn":8,"w":6402,"f":4.1},{"sn":8,"w":6444,"f":4.05},{"sn":8,"w":6486,"f":3.91},{"sn":8,"w":6542,"f":3.79},{"sn":8,"w":6626,"f":3.72},{"sn":8,"w":6682,"f":3.71},
{"sn":9,"w":5807,"f":2.02},{"sn":9,"w":5870,"f":1.97},{"sn":9,"w":5947,"f":1.94},{"sn":9,"w":5982,"f":1.83},{"sn":9,"w":6010,"f":1.5},{"sn":9,"w":6038,"f":1.21},{"sn":9,"w":6059,"f":0.94},{"sn":9,"w":6087,"f":0.71},{"sn":9,"w":6115,"f":0.58},{"sn":9,"w":6136,"f":0.82},{"sn":9,"w":6157,"f":1.21},{"sn":9,"w":6185,"f":1.55},{"sn":9,"w":6220,"f":1.89},{"sn":9,"w":6262,"f":2.28},{"sn":9,"w":6283,"f":2.34},{"sn":9,"w":6346,"f":2.31},{"sn":9,"w":6402,"f":2.26},{"sn":9,"w":6458,"f":2.17},{"sn":9,"w":6528,"f":2.06},{"sn":9,"w":6612,"f":1.94},{"sn":9,"w":6745,"f":1.92}
],
"t1":[
{"t":"SN 2008ha \u00a0-1d","w":6861,"f":18.75},{"t":"SN 2006bt \u00a0-3d","w":6861,"f":16.86},{"t":"SN 2005hk \u00a0-5d","w":6861,"f":15.08},{"t":"SN 2007if \u00a0-9d","w":6861,"f":11.98},{"t":"SN 2009dc \u00a0-2d","w":6861,"f":9.73},{"t":"SN 2001V \u00a0-7d","w":6861,"f":7.43},{"t":"SN 2010Y \u00a00214","w":6861,"f":5.14},{"t":"SN 1998aq \u00a0-9d","w":6861,"f":3.67},{"t":"PTF10icb \u00a0-10d","w":6861,"f":1.88}
],
"k2":[
{"sn":1,"w":5791,"f":15.16},{"sn":1,"w":5805,"f":15.24},{"sn":1,"w":5819,"f":15.34},{"sn":1,"w":5841,"f":15.4},{"sn":1,"w":5862,"f":15.49},{"sn":1,"w":5876,"f":15.52},{"sn":1,"w":5883,"f":15.73},{"sn":1,"w":5890,"f":15.55},{"sn":1,"w":5911,"f":15.62},{"sn":1,"w":5932,"f":15.67},{"sn":1,"w":5953,"f":15.71},{"sn":1,"w":5972,"f":15.69},{"sn":1,"w":5989,"f":15.55},{"sn":1,"w":6006,"f":15.24},{"sn":1,"w":6024,"f":14.78},{"sn":1,"w":6045,"f":14.33},{"sn":1,"w":6067,"f":14.02},{"sn":1,"w":6087,"f":13.85},{"sn":1,"w":6109,"f":13.79},{"sn":1,"w":6127,"f":13.93},{"sn":1,"w":6151,"f":14.33},{"sn":1,"w":6172,"f":14.74},{"sn":1,"w":6193,"f":15.06},{"sn":1,"w":6214,"f":15.28},{"sn":1,"w":6235,"f":15.43},{"sn":1,"w":6257,"f":15.49},{"sn":1,"w":6271,"f":15.43},{"sn":1,"w":6285,"f":15.24},{"sn":1,"w":6299,"f":15.1},{"sn":1,"w":6316,"f":15.15},{"sn":1,"w":6335,"f":15.24},{"sn":1,"w":6355,"f":15.42},{"sn":1,"w":6376,"f":15.55},{"sn":1,"w":6398,"f":15.6},{"sn":1,"w":6426,"f":15.62},{"sn":1,"w":6454,"f":15.6},{"sn":1,"w":6482,"f":15.62},{"sn":1,"w":6510,"f":15.64},{"sn":1,"w":6539,"f":15.62},{"sn":1,"w":6567,"f":15.6},{"sn":1,"w":6595,"f":15.57},{"sn":1,"w":6623,"f":15.55},{"sn":1,"w":6651,"f":15.55},{"sn":1,"w":6680,"f":15.49},{"sn":1,"w":6708,"f":15.43},{"sn":1,"w":6729,"f":15.37},{"sn":1,"w":6750,"f":15.33},{"sn":1,"w":6778,"f":15.31},{"sn":1,"w":6806,"f":15.28},{"sn":1,"w":6820,"f":15.37},{"sn":1,"w":6830,"f":15.52},{"sn":1,"w":6839,"f":15.24},{"sn":1,"w":6856,"f":15.22},
{"sn":2,"w":5774,"f":13.99},{"sn":2,"w":5791,"f":14.02},{"sn":2,"w":5812,"f":13.95},{"sn":2,"w":5833,"f":13.75},{"sn":2,"w":5855,"f":13.38},{"sn":2,"w":5876,"f":13.02},{"sn":2,"w":5897,"f":12.71},{"sn":2,"w":5918,"f":12.55},{"sn":2,"w":5939,"f":12.53},{"sn":2,"w":5961,"f":12.39},{"sn":2,"w":5982,"f":12.53},{"sn":2,"w":6003,"f":12.48},{"sn":2,"w":6024,"f":12.6},{"sn":2,"w":6045,"f":12.57},{"sn":2,"w":6067,"f":12.63},{"sn":2,"w":6088,"f":12.75},{"sn":2,"w":6104,"f":12.98},{"sn":2,"w":6123,"f":13.25},{"sn":2,"w":6144,"f":13.52},{"sn":2,"w":6165,"f":13.79},{"sn":2,"w":6186,"f":14.06},{"sn":2,"w":6207,"f":14.22},{"sn":2,"w":6228,"f":14.29},{"sn":2,"w":6243,"f":14.2},{"sn":2,"w":6257,"f":14.06},{"sn":2,"w":6278,"f":14.02},{"sn":2,"w":6299,"f":14.02},{"sn":2,"w":6316,"f":13.93},{"sn":2,"w":6334,"f":14.15},{"sn":2,"w":6355,"f":14.33},{"sn":2,"w":6384,"f":14.38},{"sn":2,"w":6412,"f":14.4},{"sn":2,"w":6440,"f":14.42},{"sn":2,"w":6468,"f":14.4},{"sn":2,"w":6490,"f":14.51},{"sn":2,"w":6510,"f":14.58},{"sn":2,"w":6527,"f":14.56},{"sn":2,"w":6546,"f":14.35},{"sn":2,"w":6567,"f":14.29},{"sn":2,"w":6588,"f":14.42},{"sn":2,"w":6607,"f":14.47},{"sn":2,"w":6623,"f":14.33},{"sn":2,"w":6640,"f":14.2},{"sn":2,"w":6659,"f":14.38},{"sn":2,"w":6677,"f":14.33},{"sn":2,"w":6694,"f":14.38},{"sn":2,"w":6711,"f":14.24},{"sn":2,"w":6722,"f":14.13},{"sn":2,"w":6739,"f":14.29},{"sn":2,"w":6757,"f":14.33},{"sn":2,"w":6776,"f":14.2},{"sn":2,"w":6792,"f":14.13},{"sn":2,"w":6809,"f":14.29},{"sn":2,"w":6828,"f":14.2},{"sn":2,"w":6847,"f":14.24},{"sn":2,"w":6856,"f":14.22},
{"sn":3,"w":5742,"f":11.71},{"sn":3,"w":5777,"f":11.85},{"sn":3,"w":5819,"f":11.94},{"sn":3,"w":5855,"f":12.03},{"sn":3,"w":5890,"f":12.12},{"sn":3,"w":5911,"f":12.08},{"sn":3,"w":5925,"f":12.26},{"sn":3,"w":5946,"f":12.17},{"sn":3,"w":5968,"f":12.06},{"sn":3,"w":5989,"f":11.85},{"sn":3,"w":6006,"f":11.44},{"sn":3,"w":6022,"f":11.3},{"sn":3,"w":6043,"f":10.91},{"sn":3,"w":6064,"f":10.5},{"sn":3,"w":6085,"f":10.28},{"sn":3,"w":6106,"f":10.37},{"sn":3,"w":6127,"f":10.73},{"sn":3,"w":6155,"f":11.1},{"sn":3,"w":6183,"f":11.45},{"sn":3,"w":6214,"f":11.75},{"sn":3,"w":6235,"f":11.9},{"sn":3,"w":6257,"f":12.03},{"sn":3,"w":6285,"f":12.17},{"sn":3,"w":6313,"f":12.18},{"sn":3,"w":6341,"f":12.12},{"sn":3,"w":6366,"f":12.3},{"sn":3,"w":6369,"f":11.99},{"sn":3,"w":6372,"f":12.3},{"sn":3,"w":6398,"f":12.26},{"sn":3,"w":6426,"f":12.21},{"sn":3,"w":6454,"f":12.17},{"sn":3,"w":6482,"f":12.08},{"sn":3,"w":6510,"f":11.99},{"sn":3,"w":6532,"f":11.85},{"sn":3,"w":6553,"f":11.62},{"sn":3,"w":6567,"f":11.44},
{"sn":4,"w":5784,"f":10.46},{"sn":4,"w":5798,"f":10.64},{"sn":4,"w":5812,"f":10.77},{"sn":4,"w":5829,"f":10.73},{"sn":4,"w":5847,"f":10.86},{"sn":4,"w":5868,"f":10.91},{"sn":4,"w":5889,"f":10.86},{"sn":4,"w":5910,"f":10.93},{"sn":4,"w":5931,"f":10.95},{"sn":4,"w":5945,"f":10.73},{"sn":4,"w":5959,"f":10.46},{"sn":4,"w":5973,"f":10.19},{"sn":4,"w":5994,"f":9.87},{"sn":4,"w":6015,"f":9.6},{"sn":4,"w":6036,"f":9.42},{"sn":4,"w":6057,"f":9.27},{"sn":4,"w":6080,"f":9.22},{"sn":4,"w":6099,"f":9.27},{"sn":4,"w":6113,"f":9.38},{"sn":4,"w":6132,"f":9.65},{"sn":4,"w":6148,"f":10.01},{"sn":4,"w":6169,"f":10.28},{"sn":4,"w":6190,"f":10.5},{"sn":4,"w":6204,"f":10.68},{"sn":4,"w":6218,"f":10.55},{"sn":4,"w":6232,"f":10.82},{"sn":4,"w":6246,"f":10.86},{"sn":4,"w":6260,"f":10.84},{"sn":4,"w":6274,"f":10.91},{"sn":4,"w":6295,"f":10.86},{"sn":4,"w":6316,"f":10.77},{"sn":4,"w":6337,"f":10.93},{"sn":4,"w":6365,"f":10.98},{"sn":4,"w":6386,"f":11.0},{"sn":4,"w":6407,"f":11.04},{"sn":4,"w":6428,"f":11.07},{"sn":4,"w":6456,"f":11.13},{"sn":4,"w":6477,"f":11.18},{"sn":4,"w":6498,"f":11.13},{"sn":4,"w":6526,"f":11.09},{"sn":4,"w":6554,"f":11.06},{"sn":4,"w":6582,"f":11.07},{"sn":4,"w":6610,"f":11.04},{"sn":4,"w":6638,"f":11.0},{"sn":4,"w":6666,"f":10.93},{"sn":4,"w":6694,"f":10.95},{"sn":4,"w":6722,"f":10.86},{"sn":4,"w":6743,"f":10.93},{"sn":4,"w":6764,"f":10.82},{"sn":4,"w":6785,"f":10.73},{"sn":4,"w":6806,"f":10.68},{"sn":4,"w":6827,"f":10.59},{"sn":4,"w":6848,"f":10.73},{"sn":4,"w":6869,"f":10.64},{"sn":4,"w":6890,"f":10.68},{"sn":4,"w":6911,"f":10.62},{"sn":4,"w":6925,"f":10.57},
{"sn":5,"w":5759,"f":9.42},{"sn":5,"w":5770,"f":9.51},{"sn":5,"w":5791,"f":9.54},{"sn":5,"w":5812,"f":9.67},{"sn":5,"w":5833,"f":9.72},{"sn":5,"w":5854,"f":9.67},{"sn":5,"w":5875,"f":9.72},{"sn":5,"w":5896,"f":9.65},{"sn":5,"w":5917,"f":9.6},{"sn":5,"w":5931,"f":9.58},{"sn":5,"w":5945,"f":9.42},{"sn":5,"w":5959,"f":9.24},{"sn":5,"w":5973,"f":9.02},{"sn":5,"w":5994,"f":8.84},{"sn":5,"w":6015,"f":8.66},{"sn":5,"w":6036,"f":8.52},{"sn":5,"w":6053,"f":8.5},{"sn":5,"w":6064,"f":8.52},{"sn":5,"w":6071,"f":8.79},{"sn":5,"w":6081,"f":8.57},{"sn":5,"w":6092,"f":8.25},{"sn":5,"w":6103,"f":8.16},{"sn":5,"w":6113,"f":8.34},{"sn":5,"w":6127,"f":8.52},{"sn":5,"w":6148,"f":8.84},{"sn":5,"w":6169,"f":9.2},{"sn":5,"w":6190,"f":9.51},{"sn":5,"w":6211,"f":9.78},{"sn":5,"w":6232,"f":9.87},{"sn":5,"w":6253,"f":9.96},{"sn":5,"w":6274,"f":10.01},{"sn":5,"w":6291,"f":9.87},{"sn":5,"w":6302,"f":9.94},{"sn":5,"w":6323,"f":10.01},{"sn":5,"w":6344,"f":10.05},{"sn":5,"w":6365,"f":10.1},{"sn":5,"w":6386,"f":10.05},{"sn":5,"w":6407,"f":10.01},{"sn":5,"w":6428,"f":9.96},{"sn":5,"w":6449,"f":9.94},{"sn":5,"w":6470,"f":9.92},{"sn":5,"w":6498,"f":9.87},{"sn":5,"w":6526,"f":9.85},{"sn":5,"w":6554,"f":9.83},{"sn":5,"w":6582,"f":9.81},{"sn":5,"w":6610,"f":9.85},{"sn":5,"w":6638,"f":9.78},{"sn":5,"w":6666,"f":9.74},{"sn":5,"w":6694,"f":9.69},{"sn":5,"w":6715,"f":9.6},{"sn":5,"w":6729,"f":9.63},{"sn":5,"w":6750,"f":9.6},
{"sn":6,"w":5815,"f":7.71},{"sn":6,"w":5826,"f":7.85},{"sn":6,"w":5840,"f":8.03},{"sn":6,"w":5861,"f":8.21},{"sn":6,"w":5882,"f":8.3},{"sn":6,"w":5896,"f":8.41},{"sn":6,"w":5917,"f":8.34},{"sn":6,"w":5938,"f":8.39},{"sn":6,"w":5959,"f":8.43},{"sn":6,"w":5980,"f":8.41},{"sn":6,"w":6001,"f":8.25},{"sn":6,"w":6020,"f":8.03},{"sn":6,"w":6036,"f":7.67},{"sn":6,"w":6053,"f":7.31},{"sn":6,"w":6071,"f":6.99},{"sn":6,"w":6090,"f":6.81},{"sn":6,"w":6106,"f":6.68},{"sn":6,"w":6123,"f":6.72},{"sn":6,"w":6141,"f":6.95},{"sn":6,"w":6162,"f":7.4},{"sn":6,"w":6183,"f":7.85},{"sn":6,"w":6204,"f":8.07},{"sn":6,"w":6225,"f":8.21},{"sn":6,"w":6246,"f":8.25},{"sn":6,"w":6267,"f":8.34},{"sn":6,"w":6288,"f":8.39},{"sn":6,"w":6309,"f":8.5},{"sn":6,"w":6330,"f":8.57},{"sn":6,"w":6358,"f":8.61},{"sn":6,"w":6386,"f":8.68},{"sn":6,"w":6414,"f":8.66},{"sn":6,"w":6442,"f":8.52},{"sn":6,"w":6463,"f":8.43},{"sn":6,"w":6484,"f":8.39},{"sn":6,"w":6512,"f":8.37},{"sn":6,"w":6540,"f":8.31},{"sn":6,"w":6568,"f":8.3},{"sn":6,"w":6596,"f":8.25},{"sn":6,"w":6624,"f":8.3},{"sn":6,"w":6652,"f":8.25},{"sn":6,"w":6680,"f":8.28},{"sn":6,"w":6708,"f":8.22},{"sn":6,"w":6729,"f":8.16},{"sn":6,"w":6750,"f":8.03},{"sn":6,"w":6771,"f":7.85},{"sn":6,"w":6792,"f":7.8},{"sn":6,"w":6813,"f":7.86},{"sn":6,"w":6831,"f":7.8},{"sn":6,"w":6848,"f":7.94},{"sn":6,"w":6855,"f":7.62},{"sn":6,"w":6865,"f":8.12},{"sn":6,"w":6873,"f":7.71},{"sn":6,"w":6883,"f":7.85},
{"sn":7,"w":5714,"f":6.69},{"sn":7,"w":5756,"f":6.68},{"sn":7,"w":5798,"f":6.77},{"sn":7,"w":5826,"f":6.86},{"sn":7,"w":5847,"f":6.99},{"sn":7,"w":5861,"f":7.08},{"sn":7,"w":5875,"f":6.95},{"sn":7,"w":5896,"f":6.68},{"sn":7,"w":5917,"f":6.41},{"sn":7,"w":5938,"f":6.23},{"sn":7,"w":5947,"f":6.14},{"sn":7,"w":5975,"f":5.87},{"sn":7,"w":6003,"f":5.67},{"sn":7,"w":6031,"f":5.55},{"sn":7,"w":6059,"f":5.46},{"sn":7,"w":6080,"f":5.49},{"sn":7,"w":6101,"f":5.64},{"sn":7,"w":6129,"f":5.91},{"sn":7,"w":6157,"f":6.23},{"sn":7,"w":6178,"f":6.45},{"sn":7,"w":6197,"f":6.77},{"sn":7,"w":6232,"f":6.95},{"sn":7,"w":6260,"f":7.17},{"sn":7,"w":6281,"f":7.22},{"sn":7,"w":6302,"f":7.31},{"sn":7,"w":6330,"f":7.4},{"sn":7,"w":6358,"f":7.44},{"sn":7,"w":6386,"f":7.41},{"sn":7,"w":6414,"f":7.44},{"sn":7,"w":6442,"f":7.47},{"sn":7,"w":6470,"f":7.49},{"sn":7,"w":6498,"f":7.44},{"sn":7,"w":6519,"f":7.5},{"sn":7,"w":6547,"f":7.47},{"sn":7,"w":6568,"f":7.49},{"sn":7,"w":6589,"f":7.35},{"sn":7,"w":6610,"f":7.17},{"sn":7,"w":6631,"f":7.04},{"sn":7,"w":6652,"f":7.13},{"sn":7,"w":6673,"f":7.2},{"sn":7,"w":6694,"f":7.08},{"sn":7,"w":6715,"f":6.99},{"sn":7,"w":6736,"f":6.82},{"sn":7,"w":6757,"f":6.72},{"sn":7,"w":6778,"f":6.69},{"sn":7,"w":6792,"f":6.68},
{"sn":8,"w":5681,"f":5.55},{"sn":8,"w":5702,"f":5.51},{"sn":8,"w":5730,"f":5.53},{"sn":8,"w":5758,"f":5.46},{"sn":8,"w":5786,"f":5.37},{"sn":8,"w":5814,"f":5.15},{"sn":8,"w":5842,"f":4.83},{"sn":8,"w":5870,"f":4.47},{"sn":8,"w":5898,"f":4.25},{"sn":8,"w":5919,"f":4.18},{"sn":8,"w":5940,"f":4.2},{"sn":8,"w":5961,"f":4.34},{"sn":8,"w":5982,"f":4.47},{"sn":8,"w":6010,"f":4.54},{"sn":8,"w":6038,"f":4.63},{"sn":8,"w":6066,"f":4.74},{"sn":8,"w":6094,"f":4.97},{"sn":8,"w":6122,"f":5.24},{"sn":8,"w":6150,"f":5.51},{"sn":8,"w":6178,"f":5.73},{"sn":8,"w":6206,"f":5.87},{"sn":8,"w":6234,"f":5.96},{"sn":8,"w":6262,"f":6.03},{"sn":8,"w":6290,"f":6.05},{"sn":8,"w":6318,"f":6.07},{"sn":8,"w":6346,"f":6.05},{"sn":8,"w":6374,"f":6.07},{"sn":8,"w":6402,"f":6.05},{"sn":8,"w":6430,"f":6.03},{"sn":8,"w":6458,"f":6.0},{"sn":8,"w":6486,"f":5.98},{"sn":8,"w":6514,"f":5.91},{"sn":8,"w":6542,"f":5.94},{"sn":8,"w":6570,"f":5.91},{"sn":8,"w":6598,"f":5.94},{"sn":8,"w":6626,"f":5.96},{"sn":8,"w":6668,"f":5.98},{"sn":8,"w":6710,"f":6.05},{"sn":8,"w":6752,"f":6.07},{"sn":8,"w":6794,"f":6.09},{"sn":8,"w":6836,"f":6.18},{"sn":8,"w":6857,"f":6.14},
{"sn":9,"w":5681,"f":3.71},{"sn":9,"w":5709,"f":3.69},{"sn":9,"w":5737,"f":3.75},{"sn":9,"w":5765,"f":3.78},{"sn":9,"w":5793,"f":3.8},{"sn":9,"w":5814,"f":3.78},{"sn":9,"w":5828,"f":3.71},{"sn":9,"w":5842,"f":3.82},{"sn":9,"w":5863,"f":3.84},{"sn":9,"w":5884,"f":3.8},{"sn":9,"w":5905,"f":3.71},{"sn":9,"w":5926,"f":3.57},{"sn":9,"w":5947,"f":3.39},{"sn":9,"w":5968,"f":3.17},{"sn":9,"w":5989,"f":2.99},{"sn":9,"w":6010,"f":2.85},{"sn":9,"w":6031,"f":2.67},{"sn":9,"w":6052,"f":2.58},{"sn":9,"w":6073,"f":2.52},{"sn":9,"w":6094,"f":2.63},{"sn":9,"w":6115,"f":2.85},{"sn":9,"w":6136,"f":3.17},{"sn":9,"w":6157,"f":3.53},{"sn":9,"w":6178,"f":3.8},{"sn":9,"w":6199,"f":3.93},{"sn":9,"w":6213,"f":3.98},{"sn":9,"w":6227,"f":3.89},{"sn":9,"w":6248,"f":3.84},{"sn":9,"w":6276,"f":3.93},{"sn":9,"w":6304,"f":4.11},{"sn":9,"w":6332,"f":4.16},{"sn":9,"w":6353,"f":4.34},{"sn":9,"w":6381,"f":4.41},{"sn":9,"w":6409,"f":4.47},{"sn":9,"w":6444,"f":4.52},{"sn":9,"w":6479,"f":4.56},{"sn":9,"w":6514,"f":4.59},{"sn":9,"w":6542,"f":4.56},{"sn":9,"w":6556,"f":4.63},{"sn":9,"w":6577,"f":4.56},{"sn":9,"w":6605,"f":4.5},{"sn":9,"w":6633,"f":4.38},{"sn":9,"w":6661,"f":4.29},{"sn":9,"w":6689,"f":4.18},{"sn":9,"w":6717,"f":4.11},{"sn":9,"w":6738,"f":3.99},{"sn":9,"w":6759,"f":3.93},{"sn":9,"w":6780,"f":3.89},{"sn":9,"w":6794,"f":3.75},
{"sn":10,"w":5783,"f":2.31},{"sn":10,"w":5793,"f":2.54},{"sn":10,"w":5803,"f":2.4},{"sn":10,"w":5811,"f":2.67},{"sn":10,"w":5821,"f":2.49},{"sn":10,"w":5831,"f":2.63},{"sn":10,"w":5839,"f":2.34},{"sn":10,"w":5849,"f":2.79},{"sn":10,"w":5859,"f":2.49},{"sn":10,"w":5867,"f":2.72},{"sn":10,"w":5877,"f":2.45},{"sn":10,"w":5887,"f":2.54},{"sn":10,"w":5895,"f":2.27},{"sn":10,"w":5905,"f":2.45},{"sn":10,"w":5912,"f":2.18},{"sn":10,"w":5923,"f":2.4},{"sn":10,"w":5933,"f":2.46},{"sn":10,"w":5943,"f":2.63},{"sn":10,"w":5954,"f":2.43},{"sn":10,"w":5965,"f":2.27},{"sn":10,"w":5975,"f":2.09},{"sn":10,"w":5985,"f":1.82},{"sn":10,"w":5993,"f":1.45},{"sn":10,"w":6003,"f":1.36},{"sn":10,"w":6010,"f":1.27},{"sn":10,"w":6017,"f":1.09},{"sn":10,"w":6027,"f":1.0},{"sn":10,"w":6038,"f":0.73},{"sn":10,"w":6049,"f":0.69},{"sn":10,"w":6059,"f":0.87},{"sn":10,"w":6069,"f":1.0},{"sn":10,"w":6080,"f":1.09},{"sn":10,"w":6090,"f":1.36},{"sn":10,"w":6097,"f":1.59},{"sn":10,"w":6105,"f":1.09},{"sn":10,"w":6115,"f":1.45},{"sn":10,"w":6125,"f":1.82},{"sn":10,"w":6133,"f":1.59},{"sn":10,"w":6143,"f":1.91},{"sn":10,"w":6153,"f":1.73},{"sn":10,"w":6161,"f":2.0},{"sn":10,"w":6171,"f":1.73},{"sn":10,"w":6181,"f":1.45},{"sn":10,"w":6189,"f":0.87},{"sn":10,"w":6199,"f":1.18},{"sn":10,"w":6206,"f":1.45},{"sn":10,"w":6217,"f":1.23},{"sn":10,"w":6227,"f":1.36},{"sn":10,"w":6237,"f":1.5},{"sn":10,"w":6248,"f":1.59},{"sn":10,"w":6259,"f":1.82},{"sn":10,"w":6269,"f":1.95},{"sn":10,"w":6279,"f":1.64},{"sn":10,"w":6290,"f":2.27},{"sn":10,"w":6300,"f":2.0},{"sn":10,"w":6311,"f":2.45},{"sn":10,"w":6321,"f":2.18},{"sn":10,"w":6332,"f":2.4},{"sn":10,"w":6342,"f":2.27},{"sn":10,"w":6353,"f":2.54},{"sn":10,"w":6363,"f":2.36},{"sn":10,"w":6371,"f":2.58},{"sn":10,"w":6381,"f":2.31},{"sn":10,"w":6391,"f":2.49},{"sn":10,"w":6402,"f":2.27},{"sn":10,"w":6412,"f":2.54},{"sn":10,"w":6423,"f":2.0},{"sn":10,"w":6433,"f":2.45},{"sn":10,"w":6441,"f":2.27},{"sn":10,"w":6451,"f":2.63},{"sn":10,"w":6461,"f":2.36},{"sn":10,"w":6472,"f":2.72},{"sn":10,"w":6482,"f":2.54},{"sn":10,"w":6490,"f":2.81},{"sn":10,"w":6500,"f":2.36},{"sn":10,"w":6510,"f":2.67},{"sn":10,"w":6517,"f":2.54},{"sn":10,"w":6525,"f":2.9},{"sn":10,"w":6535,"f":2.45},{"sn":10,"w":6545,"f":2.63},{"sn":10,"w":6556,"f":2.54},{"sn":10,"w":6567,"f":2.67},{"sn":10,"w":6577,"f":2.81},{"sn":10,"w":6587,"f":2.85},{"sn":10,"w":6595,"f":2.72},{"sn":10,"w":6605,"f":2.45},{"sn":10,"w":6615,"f":2.54},{"sn":10,"w":6626,"f":2.27},{"sn":10,"w":6637,"f":2.18},{"sn":10,"w":6647,"f":2.0},{"sn":10,"w":6657,"f":2.27},{"sn":10,"w":6665,"f":2.0},{"sn":10,"w":6675,"f":1.82},{"sn":10,"w":6685,"f":1.14},{"sn":10,"w":6693,"f":1.45},{"sn":10,"w":6703,"f":1.73},{"sn":10,"w":6713,"f":1.91},{"sn":10,"w":6724,"f":2.09},{"sn":10,"w":6734,"f":2.0},{"sn":10,"w":6742,"f":1.82},{"sn":10,"w":6752,"f":2.18},{"sn":10,"w":6762,"f":2.27},{"sn":10,"w":6770,"f":2.0},{"sn":10,"w":6780,"f":2.27},{"sn":10,"w":6787,"f":1.95},{"sn":10,"w":6794,"f":2.18}
],
"r2":[
{"sn":1,"w":5791,"f":15.33},{"sn":1,"w":5876,"f":15.35},{"sn":1,"w":5989,"f":15.34},{"sn":1,"w":6010,"f":15.24},{"sn":1,"w":6039,"f":14.74},{"sn":1,"w":6067,"f":14.15},{"sn":1,"w":6087,"f":13.79},{"sn":1,"w":6104,"f":13.67},{"sn":1,"w":6127,"f":13.84},{"sn":1,"w":6151,"f":14.29},{"sn":1,"w":6179,"f":14.87},{"sn":1,"w":6207,"f":15.28},{"sn":1,"w":6235,"f":15.51},{"sn":1,"w":6252,"f":15.52},{"sn":1,"w":6271,"f":15.33},{"sn":1,"w":6285,"f":15.19},{"sn":1,"w":6306,"f":15.24},{"sn":1,"w":6327,"f":15.37},{"sn":1,"w":6355,"f":15.6},{"sn":1,"w":6384,"f":15.71},{"sn":1,"w":6440,"f":15.67},{"sn":1,"w":6496,"f":15.6},{"sn":1,"w":6553,"f":15.46},{"sn":1,"w":6637,"f":15.37},{"sn":1,"w":6722,"f":15.33},{"sn":1,"w":6856,"f":15.24},
{"sn":2,"w":5774,"f":13.84},{"sn":2,"w":5805,"f":13.75},{"sn":2,"w":5841,"f":13.43},{"sn":2,"w":5876,"f":13.02},{"sn":2,"w":5911,"f":12.66},{"sn":2,"w":5946,"f":12.53},{"sn":2,"w":5975,"f":12.55},{"sn":2,"w":6003,"f":12.66},{"sn":2,"w":6031,"f":12.66},{"sn":2,"w":6067,"f":12.66},{"sn":2,"w":6095,"f":12.89},{"sn":2,"w":6130,"f":13.29},{"sn":2,"w":6158,"f":13.63},{"sn":2,"w":6186,"f":13.97},{"sn":2,"w":6214,"f":14.22},{"sn":2,"w":6235,"f":14.02},{"sn":2,"w":6250,"f":13.88},{"sn":2,"w":6271,"f":13.93},{"sn":2,"w":6299,"f":13.95},{"sn":2,"w":6327,"f":13.97},{"sn":2,"w":6348,"f":14.11},{"sn":2,"w":6369,"f":14.33},{"sn":2,"w":6398,"f":14.44},{"sn":2,"w":6440,"f":14.4},{"sn":2,"w":6510,"f":14.29},{"sn":2,"w":6581,"f":14.2},{"sn":2,"w":6651,"f":14.11},{"sn":2,"w":6722,"f":14.02},{"sn":2,"w":6792,"f":13.93},{"sn":2,"w":6856,"f":13.81},
{"sn":3,"w":5742,"f":11.82},{"sn":3,"w":5805,"f":11.85},{"sn":3,"w":5876,"f":11.99},{"sn":3,"w":5932,"f":12.18},{"sn":3,"w":5968,"f":12.12},{"sn":3,"w":5996,"f":11.88},{"sn":3,"w":6017,"f":11.53},{"sn":3,"w":6048,"f":11.09},{"sn":3,"w":6071,"f":10.55},{"sn":3,"w":6092,"f":10.23},{"sn":3,"w":6113,"f":10.41},{"sn":3,"w":6141,"f":10.91},{"sn":3,"w":6176,"f":11.36},{"sn":3,"w":6211,"f":11.7},{"sn":3,"w":6243,"f":11.99},{"sn":3,"w":6271,"f":12.03},{"sn":3,"w":6299,"f":11.99},{"sn":3,"w":6327,"f":12.12},{"sn":3,"w":6355,"f":12.12},{"sn":3,"w":6384,"f":12.08},{"sn":3,"w":6440,"f":12.03},{"sn":3,"w":6510,"f":12.03},{"sn":3,"w":6574,"f":12.03},
{"sn":4,"w":5782,"f":10.88},{"sn":4,"w":5854,"f":10.95},{"sn":4,"w":5945,"f":11.02},{"sn":4,"w":5973,"f":10.73},{"sn":4,"w":6001,"f":10.28},{"sn":4,"w":6029,"f":9.69},{"sn":4,"w":6057,"f":9.29},{"sn":4,"w":6085,"f":9.18},{"sn":4,"w":6113,"f":9.33},{"sn":4,"w":6141,"f":9.83},{"sn":4,"w":6176,"f":10.37},{"sn":4,"w":6218,"f":10.77},{"sn":4,"w":6253,"f":10.95},{"sn":4,"w":6274,"f":10.91},{"sn":4,"w":6295,"f":10.77},{"sn":4,"w":6316,"f":10.82},{"sn":4,"w":6358,"f":10.91},{"sn":4,"w":6407,"f":10.95},{"sn":4,"w":6456,"f":11.04},{"sn":4,"w":6512,"f":11.09},{"sn":4,"w":6582,"f":11.04},{"sn":4,"w":6666,"f":10.95},{"sn":4,"w":6750,"f":10.86},{"sn":4,"w":6862,"f":10.77},{"sn":4,"w":6918,"f":10.64},
{"sn":5,"w":5759,"f":9.92},{"sn":5,"w":5812,"f":9.83},{"sn":5,"w":5882,"f":9.72},{"sn":5,"w":5931,"f":9.6},{"sn":5,"w":5959,"f":9.42},{"sn":5,"w":5987,"f":9.15},{"sn":5,"w":6015,"f":8.84},{"sn":5,"w":6043,"f":8.52},{"sn":5,"w":6071,"f":8.31},{"sn":5,"w":6092,"f":8.25},{"sn":5,"w":6113,"f":8.37},{"sn":5,"w":6141,"f":8.75},{"sn":5,"w":6176,"f":9.29},{"sn":5,"w":6211,"f":9.69},{"sn":5,"w":6246,"f":9.9},{"sn":5,"w":6274,"f":9.92},{"sn":5,"w":6295,"f":9.83},{"sn":5,"w":6316,"f":9.87},{"sn":5,"w":6344,"f":9.98},{"sn":5,"w":6386,"f":10.03},{"sn":5,"w":6428,"f":10.1},{"sn":5,"w":6449,"f":10.21},{"sn":5,"w":6498,"f":10.17},{"sn":5,"w":6582,"f":10.1},{"sn":5,"w":6666,"f":9.98},{"sn":5,"w":6750,"f":9.78},
{"sn":6,"w":5815,"f":8.16},{"sn":6,"w":5882,"f":8.3},{"sn":6,"w":5938,"f":8.39},{"sn":6,"w":5973,"f":8.41},{"sn":6,"w":6001,"f":8.3},{"sn":6,"w":6029,"f":8.03},{"sn":6,"w":6050,"f":7.67},{"sn":6,"w":6071,"f":7.22},{"sn":6,"w":6092,"f":6.86},{"sn":6,"w":6113,"f":6.72},{"sn":6,"w":6134,"f":6.95},{"sn":6,"w":6162,"f":7.49},{"sn":6,"w":6190,"f":7.94},{"sn":6,"w":6218,"f":8.16},{"sn":6,"w":6246,"f":8.16},{"sn":6,"w":6274,"f":8.3},{"sn":6,"w":6302,"f":8.43},{"sn":6,"w":6337,"f":8.57},{"sn":6,"w":6379,"f":8.66},{"sn":6,"w":6428,"f":8.68},{"sn":6,"w":6484,"f":8.57},{"sn":6,"w":6554,"f":8.43},{"sn":6,"w":6638,"f":8.37},{"sn":6,"w":6722,"f":8.31},{"sn":6,"w":6806,"f":8.25},{"sn":6,"w":6890,"f":8.16},
{"sn":7,"w":5714,"f":6.95},{"sn":7,"w":5812,"f":6.81},{"sn":7,"w":5882,"f":6.63},{"sn":7,"w":5910,"f":6.45},{"sn":7,"w":5940,"f":6.22},{"sn":7,"w":5968,"f":5.96},{"sn":7,"w":5996,"f":5.73},{"sn":7,"w":6024,"f":5.66},{"sn":7,"w":6052,"f":5.6},{"sn":7,"w":6073,"f":5.53},{"sn":7,"w":6094,"f":5.64},{"sn":7,"w":6122,"f":6.05},{"sn":7,"w":6150,"f":6.41},{"sn":7,"w":6180,"f":6.7},{"sn":7,"w":6218,"f":6.95},{"sn":7,"w":6260,"f":7.17},{"sn":7,"w":6288,"f":7.22},{"sn":7,"w":6330,"f":7.26},{"sn":7,"w":6386,"f":7.29},{"sn":7,"w":6442,"f":7.35},{"sn":7,"w":6512,"f":7.41},{"sn":7,"w":6582,"f":7.35},{"sn":7,"w":6638,"f":7.22},{"sn":7,"w":6708,"f":7.08},{"sn":7,"w":6792,"f":7.02},{"sn":7,"w":6890,"f":6.96},
{"sn":8,"w":5681,"f":5.71},{"sn":8,"w":5744,"f":5.64},{"sn":8,"w":5786,"f":5.49},{"sn":8,"w":5828,"f":5.19},{"sn":8,"w":5863,"f":4.83},{"sn":8,"w":5891,"f":4.52},{"sn":8,"w":5916,"f":4.25},{"sn":8,"w":5930,"f":4.14},{"sn":8,"w":5954,"f":4.29},{"sn":8,"w":5982,"f":4.43},{"sn":8,"w":6010,"f":4.56},{"sn":8,"w":6038,"f":4.7},{"sn":8,"w":6066,"f":4.9},{"sn":8,"w":6094,"f":5.15},{"sn":8,"w":6122,"f":5.37},{"sn":8,"w":6150,"f":5.6},{"sn":8,"w":6192,"f":5.87},{"sn":8,"w":6234,"f":6.03},{"sn":8,"w":6276,"f":6.09},{"sn":8,"w":6318,"f":6.09},{"sn":8,"w":6360,"f":6.09},{"sn":8,"w":6416,"f":6.09},{"sn":8,"w":6472,"f":6.12},{"sn":8,"w":6528,"f":6.09},{"sn":8,"w":6584,"f":6.03},{"sn":8,"w":6640,"f":6.03},{"sn":8,"w":6710,"f":6.05},{"sn":8,"w":6794,"f":6.09},{"sn":8,"w":6857,"f":6.14},
{"sn":9,"w":5681,"f":3.98},{"sn":9,"w":5744,"f":3.93},{"sn":9,"w":5814,"f":3.91},{"sn":9,"w":5884,"f":3.87},{"sn":9,"w":5926,"f":3.75},{"sn":9,"w":5954,"f":3.57},{"sn":9,"w":5982,"f":3.3},{"sn":9,"w":6010,"f":2.94},{"sn":9,"w":6038,"f":2.58},{"sn":9,"w":6059,"f":2.35},{"sn":9,"w":6073,"f":2.31},{"sn":9,"w":6094,"f":2.58},{"sn":9,"w":6122,"f":2.99},{"sn":9,"w":6150,"f":3.44},{"sn":9,"w":6178,"f":3.8},{"sn":9,"w":6199,"f":3.96},{"sn":9,"w":6213,"f":4.0},{"sn":9,"w":6227,"f":3.89},{"sn":9,"w":6248,"f":3.87},{"sn":9,"w":6276,"f":3.93},{"sn":9,"w":6304,"f":4.05},{"sn":9,"w":6332,"f":4.2},{"sn":9,"w":6360,"f":4.25},{"sn":9,"w":6416,"f":4.23},{"sn":9,"w":6472,"f":4.2},{"sn":9,"w":6528,"f":4.16},{"sn":9,"w":6584,"f":4.05},{"sn":9,"w":6654,"f":3.96},{"sn":9,"w":6724,"f":3.91},{"sn":9,"w":6794,"f":3.86},
{"sn":10,"w":5783,"f":2.72},{"sn":10,"w":5807,"f":2.67},{"sn":10,"w":5835,"f":2.45},{"sn":10,"w":5863,"f":2.37},{"sn":10,"w":5926,"f":2.37},{"sn":10,"w":5968,"f":2.31},{"sn":10,"w":5993,"f":2.04},{"sn":10,"w":6017,"f":1.41},{"sn":10,"w":6038,"f":0.87},{"sn":10,"w":6052,"f":0.69},{"sn":10,"w":6069,"f":0.82},{"sn":10,"w":6087,"f":1.27},{"sn":10,"w":6108,"f":1.91},{"sn":10,"w":6125,"f":2.36},{"sn":10,"w":6143,"f":2.54},{"sn":10,"w":6164,"f":2.4},{"sn":10,"w":6185,"f":1.99},{"sn":10,"w":6203,"f":1.45},{"sn":10,"w":6220,"f":1.41},{"sn":10,"w":6241,"f":1.55},{"sn":10,"w":6262,"f":1.81},{"sn":10,"w":6283,"f":2.36},{"sn":10,"w":6297,"f":2.63},{"sn":10,"w":6332,"f":2.58},{"sn":10,"w":6388,"f":2.55},{"sn":10,"w":6444,"f":2.54},{"sn":10,"w":6584,"f":2.54},{"sn":10,"w":6626,"f":2.43},{"sn":10,"w":6654,"f":2.34},{"sn":10,"w":6724,"f":2.31},{"sn":10,"w":6794,"f":2.27}
],
"b2":[
{"sn":1,"w":5791,"f":15.39},{"sn":1,"w":5876,"f":15.44},{"sn":1,"w":5982,"f":15.43},{"sn":1,"w":6003,"f":15.33},{"sn":1,"w":6031,"f":14.87},{"sn":1,"w":6059,"f":14.33},{"sn":1,"w":6087,"f":13.97},{"sn":1,"w":6109,"f":13.81},{"sn":1,"w":6130,"f":13.97},{"sn":1,"w":6158,"f":14.42},{"sn":1,"w":6186,"f":14.92},{"sn":1,"w":6214,"f":15.37},{"sn":1,"w":6243,"f":15.69},{"sn":1,"w":6271,"f":15.78},{"sn":1,"w":6384,"f":15.78},{"sn":1,"w":6440,"f":15.69},{"sn":1,"w":6496,"f":15.55},{"sn":1,"w":6553,"f":15.43},{"sn":1,"w":6637,"f":15.37},{"sn":1,"w":6722,"f":15.34},{"sn":1,"w":6856,"f":15.34},
{"sn":2,"w":5774,"f":13.81},{"sn":2,"w":5805,"f":13.7},{"sn":2,"w":5841,"f":13.43},{"sn":2,"w":5876,"f":13.07},{"sn":2,"w":5911,"f":12.71},{"sn":2,"w":5939,"f":12.53},{"sn":2,"w":5968,"f":12.53},{"sn":2,"w":6003,"f":12.66},{"sn":2,"w":6024,"f":12.75},{"sn":2,"w":6045,"f":12.71},{"sn":2,"w":6073,"f":12.69},{"sn":2,"w":6102,"f":12.98},{"sn":2,"w":6130,"f":13.34},{"sn":2,"w":6158,"f":13.7},{"sn":2,"w":6186,"f":14.06},{"sn":2,"w":6214,"f":14.33},{"sn":2,"w":6243,"f":14.47},{"sn":2,"w":6271,"f":14.51},{"sn":2,"w":6327,"f":14.51},{"sn":2,"w":6384,"f":14.5},{"sn":2,"w":6440,"f":14.41},{"sn":2,"w":6510,"f":14.29},{"sn":2,"w":6581,"f":14.2},{"sn":2,"w":6651,"f":14.11},{"sn":2,"w":6722,"f":14.02},{"sn":2,"w":6792,"f":13.93},{"sn":2,"w":6856,"f":13.88},
{"sn":3,"w":5742,"f":11.8},{"sn":3,"w":5805,"f":11.82},{"sn":3,"w":5876,"f":11.94},{"sn":3,"w":5932,"f":12.12},{"sn":3,"w":5968,"f":12.08},{"sn":3,"w":5996,"f":11.85},{"sn":3,"w":6017,"f":11.49},{"sn":3,"w":6043,"f":11.09},{"sn":3,"w":6064,"f":10.64},{"sn":3,"w":6085,"f":10.37},{"sn":3,"w":6106,"f":10.5},{"sn":3,"w":6134,"f":10.91},{"sn":3,"w":6162,"f":11.27},{"sn":3,"w":6190,"f":11.6},{"sn":3,"w":6220,"f":11.88},{"sn":3,"w":6257,"f":12.08},{"sn":3,"w":6285,"f":12.21},{"sn":3,"w":6327,"f":12.3},{"sn":3,"w":6362,"f":12.26},{"sn":3,"w":6412,"f":12.17},{"sn":3,"w":6468,"f":12.03},{"sn":3,"w":6525,"f":11.91},{"sn":3,"w":6574,"f":11.85},
{"sn":4,"w":5782,"f":10.86},{"sn":4,"w":5854,"f":10.93},{"sn":4,"w":5924,"f":10.98},{"sn":4,"w":5952,"f":10.95},{"sn":4,"w":5973,"f":10.77},{"sn":4,"w":6001,"f":10.37},{"sn":4,"w":6029,"f":9.83},{"sn":4,"w":6057,"f":9.38},{"sn":4,"w":6085,"f":9.29},{"sn":4,"w":6113,"f":9.47},{"sn":4,"w":6141,"f":9.83},{"sn":4,"w":6176,"f":10.37},{"sn":4,"w":6218,"f":10.82},{"sn":4,"w":6260,"f":11.09},{"sn":4,"w":6302,"f":11.22},{"sn":4,"w":6344,"f":11.27},{"sn":4,"w":6386,"f":11.2},{"sn":4,"w":6442,"f":11.09},{"sn":4,"w":6512,"f":10.95},{"sn":4,"w":6582,"f":10.84},{"sn":4,"w":6680,"f":10.76},{"sn":4,"w":6792,"f":10.73},{"sn":4,"w":6918,"f":10.76},
{"sn":5,"w":5759,"f":9.85},{"sn":5,"w":5882,"f":9.69},{"sn":5,"w":5931,"f":9.58},{"sn":5,"w":5959,"f":9.4},{"sn":5,"w":5987,"f":9.11},{"sn":5,"w":6015,"f":8.77},{"sn":5,"w":6043,"f":8.48},{"sn":5,"w":6071,"f":8.3},{"sn":5,"w":6092,"f":8.3},{"sn":5,"w":6113,"f":8.48},{"sn":5,"w":6141,"f":8.93},{"sn":5,"w":6176,"f":9.47},{"sn":5,"w":6218,"f":9.92},{"sn":5,"w":6260,"f":10.14},{"sn":5,"w":6302,"f":10.26},{"sn":5,"w":6344,"f":10.3},{"sn":5,"w":6386,"f":10.21},{"sn":5,"w":6442,"f":10.05},{"sn":5,"w":6512,"f":9.94},{"sn":5,"w":6582,"f":9.86},{"sn":5,"w":6666,"f":9.78},{"sn":5,"w":6750,"f":9.69},
{"sn":6,"w":5815,"f":8.03},{"sn":6,"w":5882,"f":8.22},{"sn":6,"w":5938,"f":8.36},{"sn":6,"w":5980,"f":8.39},{"sn":6,"w":6008,"f":8.25},{"sn":6,"w":6029,"f":8.03},{"sn":6,"w":6050,"f":7.67},{"sn":6,"w":6071,"f":7.22},{"sn":6,"w":6092,"f":6.86},{"sn":6,"w":6113,"f":6.77},{"sn":6,"w":6141,"f":7.13},{"sn":6,"w":6169,"f":7.76},{"sn":6,"w":6197,"f":8.3},{"sn":6,"w":6225,"f":8.61},{"sn":6,"w":6260,"f":8.73},{"sn":6,"w":6302,"f":8.7},{"sn":6,"w":6344,"f":8.66},{"sn":6,"w":6400,"f":8.57},{"sn":6,"w":6470,"f":8.43},{"sn":6,"w":6554,"f":8.31},{"sn":6,"w":6638,"f":8.25},{"sn":6,"w":6722,"f":8.21},{"sn":6,"w":6806,"f":8.16},{"sn":6,"w":6890,"f":8.13},
{"sn":7,"w":5714,"f":6.9},{"sn":7,"w":5812,"f":6.77},{"sn":7,"w":5870,"f":6.62},{"sn":7,"w":5905,"f":6.45},{"sn":7,"w":5940,"f":6.2},{"sn":7,"w":5968,"f":5.98},{"sn":7,"w":5996,"f":5.78},{"sn":7,"w":6024,"f":5.64},{"sn":7,"w":6052,"f":5.6},{"sn":7,"w":6073,"f":5.55},{"sn":7,"w":6094,"f":5.73},{"sn":7,"w":6122,"f":6.0},{"sn":7,"w":6150,"f":6.32},{"sn":7,"w":6178,"f":6.6},{"sn":7,"w":6204,"f":6.86},{"sn":7,"w":6246,"f":7.17},{"sn":7,"w":6288,"f":7.47},{"sn":7,"w":6330,"f":7.56},{"sn":7,"w":6372,"f":7.53},{"sn":7,"w":6442,"f":7.4},{"sn":7,"w":6512,"f":7.26},{"sn":7,"w":6582,"f":7.13},{"sn":7,"w":6666,"f":7.04},{"sn":7,"w":6750,"f":6.96},{"sn":7,"w":6890,"f":6.96},
{"sn":8,"w":5681,"f":5.69},{"sn":8,"w":5744,"f":5.6},{"sn":8,"w":5786,"f":5.46},{"sn":8,"w":5821,"f":5.24},{"sn":8,"w":5856,"f":4.92},{"sn":8,"w":5884,"f":4.61},{"sn":8,"w":5912,"f":4.34},{"sn":8,"w":5930,"f":4.25},{"sn":8,"w":5947,"f":4.38},{"sn":8,"w":5968,"f":4.52},{"sn":8,"w":5996,"f":4.59},{"sn":8,"w":6024,"f":4.7},{"sn":8,"w":6052,"f":4.88},{"sn":8,"w":6080,"f":5.01},{"sn":8,"w":6108,"f":5.24},{"sn":8,"w":6136,"f":5.46},{"sn":8,"w":6164,"f":5.69},{"sn":8,"w":6192,"f":5.89},{"sn":8,"w":6220,"f":6.03},{"sn":8,"w":6248,"f":6.14},{"sn":8,"w":6290,"f":6.21},{"sn":8,"w":6332,"f":6.23},{"sn":8,"w":6374,"f":6.18},{"sn":8,"w":6430,"f":6.09},{"sn":8,"w":6486,"f":6.0},{"sn":8,"w":6542,"f":5.94},{"sn":8,"w":6598,"f":5.94},{"sn":8,"w":6654,"f":5.96},{"sn":8,"w":6724,"f":6.0},{"sn":8,"w":6794,"f":6.05},{"sn":8,"w":6857,"f":6.12},
{"sn":9,"w":5681,"f":4.05},{"sn":9,"w":5744,"f":4.0},{"sn":9,"w":5814,"f":3.98},{"sn":9,"w":5884,"f":3.93},{"sn":9,"w":5926,"f":3.8},{"sn":9,"w":5954,"f":3.62},{"sn":9,"w":5982,"f":3.35},{"sn":9,"w":6010,"f":2.99},{"sn":9,"w":6038,"f":2.63},{"sn":9,"w":6059,"f":2.4},{"sn":9,"w":6073,"f":2.31},{"sn":9,"w":6094,"f":2.54},{"sn":9,"w":6115,"f":2.9},{"sn":9,"w":6143,"f":3.44},{"sn":9,"w":6171,"f":3.89},{"sn":9,"w":6199,"f":4.25},{"sn":9,"w":6220,"f":4.34},{"sn":9,"w":6276,"f":4.34},{"sn":9,"w":6360,"f":4.29},{"sn":9,"w":6444,"f":4.2},{"sn":9,"w":6514,"f":4.16},{"sn":9,"w":6584,"f":4.05},{"sn":9,"w":6654,"f":3.96},{"sn":9,"w":6724,"f":3.91},{"sn":9,"w":6794,"f":3.89},
{"sn":10,"w":5783,"f":2.85},{"sn":10,"w":5807,"f":2.79},{"sn":10,"w":5842,"f":2.62},{"sn":10,"w":5884,"f":2.55},{"sn":10,"w":5940,"f":2.54},{"sn":10,"w":5975,"f":2.4},{"sn":10,"w":5996,"f":2.09},{"sn":10,"w":6017,"f":1.45},{"sn":10,"w":6038,"f":0.91},{"sn":10,"w":6052,"f":0.73},{"sn":10,"w":6066,"f":0.82},{"sn":10,"w":6087,"f":1.27},{"sn":10,"w":6108,"f":1.91},{"sn":10,"w":6129,"f":2.45},{"sn":10,"w":6147,"f":2.72},{"sn":10,"w":6192,"f":2.7},{"sn":10,"w":6248,"f":2.64},{"sn":10,"w":6290,"f":2.72},{"sn":10,"w":6332,"f":2.67},{"sn":10,"w":6388,"f":2.63},{"sn":10,"w":6444,"f":2.58},{"sn":10,"w":6514,"f":2.55},{"sn":10,"w":6584,"f":2.54},{"sn":10,"w":6626,"f":2.45},{"sn":10,"w":6654,"f":2.34},{"sn":10,"w":6696,"f":2.31},{"sn":10,"w":6752,"f":2.31},{"sn":10,"w":6794,"f":2.36}
],
"t2":[
{"t":"SN 2006D \u00a0-7d","w":6958,"f":15.28},{"t":"SN 1990N \u00a0-14d","w":6958,"f":14.05},{"t":"SN 1996X \u00a0-4d","w":6958,"f":12.03},{"t":"SN 2010ai \u00a0-10","w":6958,"f":10.75},{"t":"SN 2003du \u00a0-11d","w":6958,"f":9.94},{"t":"SN 1999by \u00a0-5d","w":6958,"f":8.17},{"t":"SN 1994D \u00a0-11d","w":6958,"f":6.99},{"t":"SN 2009ig \u00a0-14d","w":6958,"f":5.99},{"t":"SN 1999ac \u00a0-15d","w":6958,"f":3.64},{"t":"SN 2006gz \u00a0-14d","w":6958,"f":2.2}
]
},
"vconcat":[
{
"width":473,"height":606.5,
"resolve":{"axis":{"x":"independent","y":"independent"}},
"layer":[
{"data":{"name":"k1"},"transform":[{"filter":"datum.sn <= 5"}],"mark":{"type":"line","color":"black","strokeWidth":1.2},
"encoding":{
"x":{"field":"w","type":"quantitative","scale":{"domain":[5600,7600],"nice":false,"zero":false},"axis":{"orient":"bottom","values":[6000,6500,7000,7500],"format":"d","ticks":false,"tickSize":0,"labelPadding":28,"labelBaseline":"alphabetic","labelFlush":false,"title":"Wavelength (Å)","titleBaseline":"alphabetic","titleY":62}},
"y":{"field":"f","type":"quantitative","scale":{"domain":[0,20.42],"nice":false,"zero":false},"axis":{"orient":"left","ticks":false,"tickSize":0,"labels":false,"title":"Locally Normalized Flux + Constant","titleBaseline":"alphabetic","titleX":-28}},
"detail":{"field":"sn","type":"nominal"}}},
{"data":{"name":"k1"},"transform":[{"filter":"datum.sn > 5"}],"mark":{"type":"line","color":"black","strokeWidth":1.2},
"encoding":{
"x":{"field":"w","type":"quantitative","axis":{"orient":"bottom","values":[6000,6500,7000,7500],"tickSize":-12,"tickWidth":2.5,"labels":false,"title":null}},
"y":{"field":"f","type":"quantitative","axis":{"orient":"left","values":[0,4,8,12,16,20],"tickSize":-13,"tickWidth":2.5,"labels":false,"title":null}},
"detail":{"field":"sn","type":"nominal"}}},
{"data":{"name":"r1"},"mark":{"type":"line","color":"#f72c0c","strokeWidth":2},
"encoding":{
"x":{"field":"w","type":"quantitative","axis":{"orient":"bottom","values":[5700,5800,5900,6100,6200,6300,6400,6600,6700,6800,6900,7100,7200,7300,7400],"tickSize":-6,"tickWidth":1.3,"labels":false,"title":null}},
"y":{"field":"f","type":"quantitative","axis":{"orient":"left","values":[1,2,3,5,6,7,9,10,11,13,14,15,17,18,19],"tickSize":-6,"tickWidth":1.3,"labels":false,"title":null}},
"detail":{"field":"sn","type":"nominal"}}},
{"data":{"name":"b1"},"mark":{"type":"line","color":"#1f3cff","strokeWidth":2},
"encoding":{
"x":{"field":"w","type":"quantitative","axis":{"orient":"top","values":[6000,6500,7000,7500],"tickSize":-12,"tickWidth":2.5,"labels":false,"title":null}},
"y":{"field":"f","type":"quantitative","axis":{"orient":"right","values":[4,8,12,16,20],"tickSize":-13,"tickWidth":2.5,"labels":false,"title":null}},
"detail":{"field":"sn","type":"nominal"}}},
{"data":{"name":"t1"},"mark":{"type":"text","align":"left","baseline":"middle","fontSize":19.5,"font":"Liberation Sans","color":"black"},
"encoding":{
"x":{"field":"w","type":"quantitative","axis":{"orient":"top","values":[5700,5800,5900,6100,6200,6300,6400,6600,6700,6800,6900,7100,7200,7300,7400],"tickSize":-6,"tickWidth":1.3,"labels":false,"title":null}},
"y":{"field":"f","type":"quantitative","axis":{"orient":"right","values":[1,2,3,5,6,7,9,10,11,13,14,15,17,18,19],"tickSize":-6,"tickWidth":1.3,"labels":false,"title":null}},
"text":{"field":"t"}}}
]
},
{
"width":473,"height":608.7,
"resolve":{"axis":{"x":"independent","y":"independent"}},
"layer":[
{"data":{"name":"k2"},"transform":[{"filter":"datum.sn <= 5"}],"mark":{"type":"line","color":"black","strokeWidth":1.2},
"encoding":{
"x":{"field":"w","type":"quantitative","scale":{"domain":[5600,7600],"nice":false,"zero":false},"axis":{"orient":"bottom","values":[6000,6500,7000,7500],"format":"d","ticks":false,"tickSize":0,"labelPadding":28,"labelBaseline":"alphabetic","labelFlush":false,"title":"Wavelength (Å)","titleBaseline":"alphabetic","titleY":62}},
"y":{"field":"f","type":"quantitative","scale":{"domain":[0,16.43],"nice":false,"zero":false},"axis":{"orient":"left","ticks":false,"tickSize":0,"labels":false,"title":"Locally Normalized Flux + Constant","titleBaseline":"alphabetic","titleX":-28}},
"detail":{"field":"sn","type":"nominal"}}},
{"data":{"name":"k2"},"transform":[{"filter":"datum.sn > 5"}],"mark":{"type":"line","color":"black","strokeWidth":1.2},
"encoding":{
"x":{"field":"w","type":"quantitative","axis":{"orient":"bottom","values":[6000,6500,7000,7500],"tickSize":-12,"tickWidth":2.5,"labels":false,"title":null}},
"y":{"field":"f","type":"quantitative","axis":{"orient":"left","values":[0,4,8,12,16],"tickSize":-13,"tickWidth":2.5,"labels":false,"title":null}},
"detail":{"field":"sn","type":"nominal"}}},
{"data":{"name":"r2"},"mark":{"type":"line","color":"#f72c0c","strokeWidth":2},
"encoding":{
"x":{"field":"w","type":"quantitative","axis":{"orient":"bottom","values":[5700,5800,5900,6100,6200,6300,6400,6600,6700,6800,6900,7100,7200,7300,7400],"tickSize":-6,"tickWidth":1.3,"labels":false,"title":null}},
"y":{"field":"f","type":"quantitative","axis":{"orient":"left","values":[1,2,3,5,6,7,9,10,11,13,14,15],"tickSize":-6,"tickWidth":1.3,"labels":false,"title":null}},
"detail":{"field":"sn","type":"nominal"}}},
{"data":{"name":"b2"},"mark":{"type":"line","color":"#1f3cff","strokeWidth":2},
"encoding":{
"x":{"field":"w","type":"quantitative","axis":{"orient":"top","values":[6000,6500,7000,7500],"tickSize":-12,"tickWidth":2.5,"labels":false,"title":null}},
"y":{"field":"f","type":"quantitative","axis":{"orient":"right","values":[4,8,12,16],"tickSize":-13,"tickWidth":2.5,"labels":false,"title":null}},
"detail":{"field":"sn","type":"nominal"}}},
{"data":{"name":"t2"},"mark":{"type":"text","align":"left","baseline":"middle","fontSize":19.5,"font":"Liberation Sans","color":"black"},
"encoding":{
"x":{"field":"w","type":"quantitative","axis":{"orient":"top","values":[5700,5800,5900,6100,6200,6300,6400,6600,6700,6800,6900,7100,7200,7300,7400],"tickSize":-6,"tickWidth":1.3,"labels":false,"title":null}},
"y":{"field":"f","type":"quantitative","axis":{"orient":"right","values":[1,2,3,5,6,7,9,10,11,13,14,15],"tickSize":-6,"tickWidth":1.3,"labels":false,"title":null}},
"text":{"field":"t"}}}
]
}
]
}
